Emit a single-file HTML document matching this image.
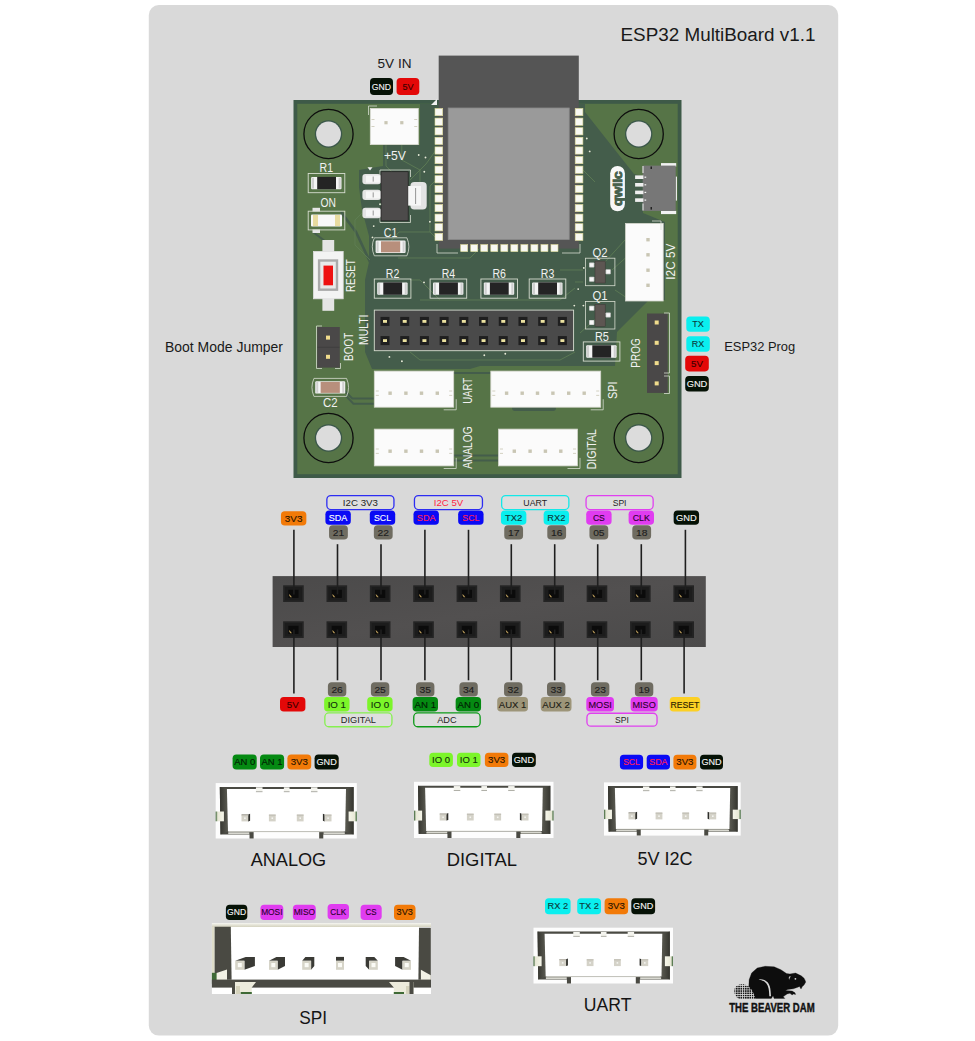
<!DOCTYPE html>
<html><head><meta charset="utf-8"><title>ESP32 MultiBoard v1.1</title>
<style>
html,body{margin:0;padding:0;background:#ffffff;width:975px;height:1041px;overflow:hidden}
svg{display:block;font-family:"Liberation Sans", sans-serif}
</style></head><body>
<svg width="975" height="1041" viewBox="0 0 975 1041">
<rect x="0" y="0" width="975" height="1041" fill="#ffffff"/>
<rect x="148.80" y="5.00" width="689.40" height="1030.60" rx="10" fill="#d9d9d9"/>
<text x="815.50" y="41.00" font-size="18.8" fill="#1a1a1a" text-anchor="end" textLength="195.00" lengthAdjust="spacingAndGlyphs">ESP32 MultiBoard v1.1</text>
<text x="394.50" y="68.40" font-size="13.6" fill="#1a1a1a" text-anchor="middle" textLength="34.00" lengthAdjust="spacingAndGlyphs">5V IN</text>
<text x="165.00" y="352.00" font-size="14.2" fill="#1a1a1a" text-anchor="start" textLength="118.00" lengthAdjust="spacingAndGlyphs">Boot Mode Jumper</text>
<text x="724.20" y="351.30" font-size="13.6" fill="#1a1a1a" text-anchor="start" textLength="71.00" lengthAdjust="spacingAndGlyphs">ESP32 Prog</text>
<rect x="370.00" y="78.00" width="23.00" height="17.00" rx="3.8" fill="#061206"/>
<text x="381.50" y="89.67" font-size="8.8" fill="#f4f4f4" text-anchor="middle" textLength="19.26" lengthAdjust="spacingAndGlyphs" stroke="#f4f4f4" stroke-width="0.12">GND</text>
<rect x="396.60" y="78.00" width="22.70" height="17.00" rx="3.8" fill="#e30808"/>
<text x="407.95" y="89.67" font-size="8.8" fill="#3a0000" text-anchor="middle" textLength="11.09" lengthAdjust="spacingAndGlyphs" stroke="#3a0000" stroke-width="0.12">5V</text>
<rect x="686.30" y="316.40" width="23.50" height="15.40" rx="3.8" fill="#0aefef"/>
<text x="698.05" y="327.34" font-size="9" fill="#0c3a3a" text-anchor="middle" textLength="11.66" lengthAdjust="spacingAndGlyphs" stroke="#0c3a3a" stroke-width="0.12">TX</text>
<rect x="686.30" y="336.30" width="23.50" height="15.40" rx="3.8" fill="#0aefef"/>
<text x="698.05" y="347.24" font-size="9" fill="#0c3a3a" text-anchor="middle" textLength="12.42" lengthAdjust="spacingAndGlyphs" stroke="#0c3a3a" stroke-width="0.12">RX</text>
<rect x="685.20" y="355.80" width="23.60" height="15.60" rx="3.8" fill="#e30808"/>
<text x="697.00" y="366.84" font-size="9" fill="#3a0000" text-anchor="middle" textLength="11.88" lengthAdjust="spacingAndGlyphs" stroke="#3a0000" stroke-width="0.12">5V</text>
<rect x="685.20" y="375.90" width="23.60" height="15.60" rx="3.8" fill="#061206"/>
<text x="697.00" y="386.94" font-size="9" fill="#f4f4f4" text-anchor="middle" textLength="20.64" lengthAdjust="spacingAndGlyphs" stroke="#f4f4f4" stroke-width="0.12">GND</text>
<rect x="293.50" y="100.00" width="388.00" height="378.00" fill="#3e5a48"/>
<rect x="297.30" y="103.80" width="380.40" height="370.40" fill="#567447"/>
<path d="M383,145 L383,166 L359,170 L359,187 L362,210 L369,236 L369,262 L365,280 L365,352 L372,369 L470,369 L480,366 L615,366 L617,332 L648,301 L665,300 L665,222 L643,213 L643,176 L634,174 L585,112 L585,104 L420,104 L420,145 Z" fill="#445d4b"/>
<path d="M341,212 L356,232 L370,262" fill="none" stroke="#445d4b" stroke-width="2.6"/>
<path d="M313,232 L330,245" fill="none" stroke="#445d4b" stroke-width="2.0"/>
<path d="M344.6,390.8 L352.3,398.5 L374,398.5" fill="none" stroke="#445d4b" stroke-width="2.0"/>
<path d="M345.6,395.6 L353.4,403.8 L374,403.8" fill="none" stroke="#445d4b" stroke-width="2.0"/>
<path d="M453.8,455.5 L498.5,455.5" fill="none" stroke="#445d4b" stroke-width="2.0"/>
<path d="M453.8,460.5 L498.5,460.5" fill="none" stroke="#445d4b" stroke-width="2.0"/>
<path d="M453.8,373 L490.8,373" fill="none" stroke="#445d4b" stroke-width="2.0"/>
<rect x="512.00" y="405.00" width="44.00" height="6.00" rx="3" fill="#445d4b"/>
<path d="M386,145 L386,166 L398,178" fill="none" stroke="#5f7f55" stroke-width="0.8"/>
<path d="M401.8,145 L401.8,160 L420,170 L420,182" fill="none" stroke="#5f7f55" stroke-width="0.8"/>
<path d="M362,213 L355,220 L355,245 L370,260" fill="none" stroke="#5f7f55" stroke-width="0.8"/>
<path d="M410,180 L426,164 L436,150" fill="none" stroke="#5f7f55" stroke-width="0.8"/>
<path d="M436,180 L430,186 L430,232 L440,242" fill="none" stroke="#5f7f55" stroke-width="0.8"/>
<path d="M391,241 L399,232 L430,232" fill="none" stroke="#5f7f55" stroke-width="0.8"/>
<path d="M398,258 L470,258 L480,248" fill="none" stroke="#5f7f55" stroke-width="0.8"/>
<path d="M583,170 L595,182" fill="none" stroke="#5f7f55" stroke-width="0.8"/>
<path d="M605,262 L625,240" fill="none" stroke="#5f7f55" stroke-width="0.8"/>
<path d="M612,270 L640,245" fill="none" stroke="#5f7f55" stroke-width="0.8"/>
<path d="M615,290 L630,300" fill="none" stroke="#5f7f55" stroke-width="0.8"/>
<path d="M420,300 L560,300 L575,288" fill="none" stroke="#5f7f55" stroke-width="0.8"/>
<path d="M410,352 L420,360 L560,360 L575,352" fill="none" stroke="#5f7f55" stroke-width="0.8"/>
<path d="M580,333 L600,315" fill="none" stroke="#5f7f55" stroke-width="0.8"/>
<path d="M560,270 L583,270" fill="none" stroke="#5f7f55" stroke-width="0.8"/>
<path d="M575,282 L583,282" fill="none" stroke="#5f7f55" stroke-width="0.8"/>
<path d="M440,300 L420,280 L410,280" fill="none" stroke="#5f7f55" stroke-width="0.8"/>
<circle cx="328.50" cy="134.00" r="24.60" fill="none" stroke="#0d0d0d" stroke-width="1.3"/>
<circle cx="328.50" cy="134.00" r="13.70" fill="#3b574a"/>
<circle cx="328.50" cy="134.00" r="12.40" fill="#dcdcdc"/>
<circle cx="638.70" cy="134.00" r="24.60" fill="none" stroke="#0d0d0d" stroke-width="1.3"/>
<circle cx="638.70" cy="134.00" r="13.70" fill="#3b574a"/>
<circle cx="638.70" cy="134.00" r="12.40" fill="#dcdcdc"/>
<circle cx="328.50" cy="438.00" r="24.60" fill="none" stroke="#0d0d0d" stroke-width="1.3"/>
<circle cx="328.50" cy="438.00" r="13.70" fill="#3b574a"/>
<circle cx="328.50" cy="438.00" r="12.40" fill="#dcdcdc"/>
<circle cx="638.70" cy="438.00" r="24.60" fill="none" stroke="#0d0d0d" stroke-width="1.3"/>
<circle cx="638.70" cy="438.00" r="13.70" fill="#3b574a"/>
<circle cx="638.70" cy="438.00" r="12.40" fill="#dcdcdc"/>
<rect x="438.70" y="55.60" width="140.10" height="193.00" fill="#555555"/>
<rect x="448.20" y="108.00" width="121.00" height="131.50" fill="#9a9a9a"/>
<rect x="448.20" y="108.00" width="121.00" height="131.50" fill="none" stroke="#8a8a8a" stroke-width="0.8"/>
<rect x="435.00" y="108.50" width="7.70" height="7.20" fill="#f8f8f3" stroke="#e0dc98" stroke-width="0.6"/>
<rect x="575.20" y="108.50" width="7.70" height="7.20" fill="#f8f8f3" stroke="#e0dc98" stroke-width="0.6"/>
<rect x="435.00" y="118.10" width="7.70" height="7.20" fill="#f8f8f3" stroke="#e0dc98" stroke-width="0.6"/>
<rect x="575.20" y="118.10" width="7.70" height="7.20" fill="#f8f8f3" stroke="#e0dc98" stroke-width="0.6"/>
<rect x="435.00" y="127.70" width="7.70" height="7.20" fill="#f8f8f3" stroke="#e0dc98" stroke-width="0.6"/>
<rect x="575.20" y="127.70" width="7.70" height="7.20" fill="#f8f8f3" stroke="#e0dc98" stroke-width="0.6"/>
<rect x="435.00" y="137.30" width="7.70" height="7.20" fill="#f8f8f3" stroke="#e0dc98" stroke-width="0.6"/>
<rect x="575.20" y="137.30" width="7.70" height="7.20" fill="#f8f8f3" stroke="#e0dc98" stroke-width="0.6"/>
<rect x="435.00" y="146.90" width="7.70" height="7.20" fill="#f8f8f3" stroke="#e0dc98" stroke-width="0.6"/>
<rect x="575.20" y="146.90" width="7.70" height="7.20" fill="#f8f8f3" stroke="#e0dc98" stroke-width="0.6"/>
<rect x="435.00" y="156.50" width="7.70" height="7.20" fill="#f8f8f3" stroke="#e0dc98" stroke-width="0.6"/>
<rect x="575.20" y="156.50" width="7.70" height="7.20" fill="#f8f8f3" stroke="#e0dc98" stroke-width="0.6"/>
<rect x="435.00" y="166.10" width="7.70" height="7.20" fill="#f8f8f3" stroke="#e0dc98" stroke-width="0.6"/>
<rect x="575.20" y="166.10" width="7.70" height="7.20" fill="#f8f8f3" stroke="#e0dc98" stroke-width="0.6"/>
<rect x="435.00" y="175.70" width="7.70" height="7.20" fill="#f8f8f3" stroke="#e0dc98" stroke-width="0.6"/>
<rect x="575.20" y="175.70" width="7.70" height="7.20" fill="#f8f8f3" stroke="#e0dc98" stroke-width="0.6"/>
<rect x="435.00" y="185.30" width="7.70" height="7.20" fill="#f8f8f3" stroke="#e0dc98" stroke-width="0.6"/>
<rect x="575.20" y="185.30" width="7.70" height="7.20" fill="#f8f8f3" stroke="#e0dc98" stroke-width="0.6"/>
<rect x="435.00" y="194.90" width="7.70" height="7.20" fill="#f8f8f3" stroke="#e0dc98" stroke-width="0.6"/>
<rect x="575.20" y="194.90" width="7.70" height="7.20" fill="#f8f8f3" stroke="#e0dc98" stroke-width="0.6"/>
<rect x="435.00" y="204.50" width="7.70" height="7.20" fill="#f8f8f3" stroke="#e0dc98" stroke-width="0.6"/>
<rect x="575.20" y="204.50" width="7.70" height="7.20" fill="#f8f8f3" stroke="#e0dc98" stroke-width="0.6"/>
<rect x="435.00" y="214.10" width="7.70" height="7.20" fill="#f8f8f3" stroke="#e0dc98" stroke-width="0.6"/>
<rect x="575.20" y="214.10" width="7.70" height="7.20" fill="#f8f8f3" stroke="#e0dc98" stroke-width="0.6"/>
<rect x="435.00" y="223.70" width="7.70" height="7.20" fill="#f8f8f3" stroke="#e0dc98" stroke-width="0.6"/>
<rect x="575.20" y="223.70" width="7.70" height="7.20" fill="#f8f8f3" stroke="#e0dc98" stroke-width="0.6"/>
<rect x="435.00" y="233.30" width="7.70" height="7.20" fill="#f8f8f3" stroke="#e0dc98" stroke-width="0.6"/>
<rect x="575.20" y="233.30" width="7.70" height="7.20" fill="#f8f8f3" stroke="#e0dc98" stroke-width="0.6"/>
<rect x="460.70" y="244.60" width="7.00" height="7.00" fill="#f8f8f3" stroke="#e0dc98" stroke-width="0.6"/>
<rect x="470.73" y="244.60" width="7.00" height="7.00" fill="#f8f8f3" stroke="#e0dc98" stroke-width="0.6"/>
<rect x="480.76" y="244.60" width="7.00" height="7.00" fill="#f8f8f3" stroke="#e0dc98" stroke-width="0.6"/>
<rect x="490.79" y="244.60" width="7.00" height="7.00" fill="#f8f8f3" stroke="#e0dc98" stroke-width="0.6"/>
<rect x="500.82" y="244.60" width="7.00" height="7.00" fill="#f8f8f3" stroke="#e0dc98" stroke-width="0.6"/>
<rect x="510.85" y="244.60" width="7.00" height="7.00" fill="#f8f8f3" stroke="#e0dc98" stroke-width="0.6"/>
<rect x="520.88" y="244.60" width="7.00" height="7.00" fill="#f8f8f3" stroke="#e0dc98" stroke-width="0.6"/>
<rect x="530.91" y="244.60" width="7.00" height="7.00" fill="#f8f8f3" stroke="#e0dc98" stroke-width="0.6"/>
<rect x="540.94" y="244.60" width="7.00" height="7.00" fill="#f8f8f3" stroke="#e0dc98" stroke-width="0.6"/>
<rect x="550.97" y="244.60" width="7.00" height="7.00" fill="#f8f8f3" stroke="#e0dc98" stroke-width="0.6"/>
<path d="M437,244 L437,253 L458,253" fill="none" stroke="#d6dccf" stroke-width="0.8"/>
<path d="M580,244 L580,253 L562,253" fill="none" stroke="#d6dccf" stroke-width="0.8"/>
<path d="M431,105 L437,105 L437,99 Z" fill="#f2f2f2"/>
<rect x="370.30" y="108.50" width="48.00" height="36.10" fill="#fbfbfb" stroke="#dcdcd4" stroke-width="0.8"/>
<rect x="384.40" y="121.10" width="3.20" height="3.20" fill="#c9c6b4"/>
<rect x="400.20" y="121.10" width="3.20" height="3.20" fill="#c9c6b4"/>
<line x1="371.50" y1="119.50" x2="374.50" y2="119.50" stroke="#c9c6b4" stroke-width="0.8"/>
<line x1="414.20" y1="119.50" x2="417.20" y2="119.50" stroke="#c9c6b4" stroke-width="0.8"/>
<line x1="371.50" y1="126.50" x2="374.50" y2="126.50" stroke="#c9c6b4" stroke-width="0.8"/>
<line x1="414.20" y1="126.50" x2="417.20" y2="126.50" stroke="#c9c6b4" stroke-width="0.8"/>
<path d="M368.5,115 L368.5,106 L377,106" fill="none" stroke="#d6dccf" stroke-width="0.8"/>
<text x="395.00" y="160.03" font-size="12.46" fill="#f2f2f2" text-anchor="middle" textLength="22.00" lengthAdjust="spacingAndGlyphs">+5V</text>
<text x="326.30" y="171.97" font-size="11.9" fill="#f2f2f2" text-anchor="middle" textLength="13.50" lengthAdjust="spacingAndGlyphs">R1</text>
<rect x="308.20" y="173.50" width="36.60" height="19.20" fill="none" stroke="#d6dccf" stroke-width="0.9"/>
<rect x="311.10" y="176.90" width="30.40" height="12.40" rx="1" fill="#f4f4f4"/>
<rect x="311.90" y="177.70" width="2.10" height="10.80" fill="#cfcfcf"/>
<rect x="338.60" y="177.70" width="2.10" height="10.80" fill="#cfcfcf"/>
<rect x="317.20" y="176.90" width="18.80" height="12.40" fill="#242424"/>
<text x="328.30" y="207.37" font-size="11.9" fill="#f2f2f2" text-anchor="middle" textLength="15.40" lengthAdjust="spacingAndGlyphs">ON</text>
<rect x="312.50" y="207.80" width="7.50" height="3.70" fill="#e6e6e6"/>
<rect x="312.50" y="229.50" width="7.50" height="3.50" fill="#e6e6e6"/>
<rect x="308.20" y="211.20" width="36.60" height="18.70" fill="none" stroke="#d6dccf" stroke-width="0.9"/>
<rect x="311.00" y="214.40" width="31.00" height="12.20" rx="1" fill="#f8f8f8"/>
<rect x="313.00" y="215.00" width="5.00" height="11.00" fill="#e8dca0"/>
<rect x="335.00" y="215.00" width="5.00" height="11.00" fill="#e8dca0"/>
<path d="M380,178 L380,170 L410.5,170 L410.5,177" fill="none" stroke="#d6dccf" stroke-width="0.8"/>
<path d="M380,214 L380,222.5 L410.5,222.5 L410.5,215" fill="none" stroke="#d6dccf" stroke-width="0.8"/>
<rect x="362.40" y="173.90" width="18.60" height="10.40" rx="3" fill="#e4e4e4"/>
<rect x="366.00" y="175.50" width="15.00" height="7.20" fill="#f6f6f6"/>
<line x1="373.20" y1="176.60" x2="373.20" y2="181.60" stroke="#6a6a6a" stroke-width="0.7"/>
<rect x="362.40" y="189.70" width="18.60" height="10.40" rx="3" fill="#e4e4e4"/>
<rect x="366.00" y="191.30" width="15.00" height="7.20" fill="#f6f6f6"/>
<line x1="373.20" y1="192.40" x2="373.20" y2="197.40" stroke="#6a6a6a" stroke-width="0.7"/>
<rect x="362.40" y="207.80" width="18.60" height="10.40" rx="3" fill="#e4e4e4"/>
<rect x="366.00" y="209.40" width="15.00" height="7.20" fill="#f6f6f6"/>
<line x1="373.20" y1="210.50" x2="373.20" y2="215.50" stroke="#6a6a6a" stroke-width="0.7"/>
<rect x="381.00" y="171.70" width="27.20" height="49.20" fill="#4d4b4b" stroke="#1c1c1c" stroke-width="0.7"/>
<rect x="410.40" y="182.00" width="16.30" height="27.60" rx="4" fill="#e4e4e4"/>
<rect x="408.20" y="186.00" width="12.80" height="19.60" fill="#f6f6f6"/>
<line x1="415.60" y1="188.00" x2="415.60" y2="204.00" stroke="#6a6a6a" stroke-width="0.7"/>
<path d="M367.5,167.2 L372.5,167.2 L370,170.4 Z" fill="#f2f2f2"/>
<text x="390.50" y="236.77" font-size="11.9" fill="#f2f2f2" text-anchor="middle" textLength="13.50" lengthAdjust="spacingAndGlyphs">C1</text>
<path d="M374.3,237.8 L406.90000000000003,237.8 Q410.90000000000003,246.8 406.90000000000003,255.8 L374.3,255.8 Q370.3,246.8 374.3,237.8 Z" fill="none" stroke="#d6dccf" stroke-width="0.8"/>
<rect x="375.60" y="240.60" width="30.00" height="12.40" rx="1.2" fill="#f4f4f4"/>
<rect x="376.60" y="241.40" width="2.00" height="10.80" fill="#cfcfcf"/>
<rect x="402.60" y="241.40" width="2.00" height="10.80" fill="#cfcfcf"/>
<rect x="381.00" y="241.30" width="19.20" height="11.00" fill="#b88f7c"/>
<rect x="322.40" y="240.00" width="11.80" height="12.00" fill="#e4e4e4"/>
<rect x="322.40" y="298.00" width="11.80" height="12.80" fill="#e4e4e4"/>
<rect x="313.40" y="251.40" width="29.80" height="47.40" fill="#f3f3f3" stroke="#dedede" stroke-width="0.8"/>
<rect x="317.90" y="259.30" width="20.30" height="31.60" fill="#aaaaaa"/>
<rect x="320.30" y="261.70" width="15.50" height="26.80" fill="#e9e9e9"/>
<rect x="323.50" y="265.60" width="9.50" height="19.70" fill="#ee1111"/>
<text x="352.00" y="279.06" font-size="11.9" fill="#f2f2f2" text-anchor="middle" textLength="32.70" lengthAdjust="spacingAndGlyphs" transform="rotate(-90 352.00 275.60)">RESET</text>
<text x="392.60" y="278.06" font-size="11.9" fill="#f2f2f2" text-anchor="middle" textLength="13.50" lengthAdjust="spacingAndGlyphs">R2</text>
<rect x="374.30" y="279.00" width="36.60" height="19.20" fill="none" stroke="#d6dccf" stroke-width="0.9"/>
<rect x="377.20" y="282.40" width="30.40" height="12.40" rx="1" fill="#f4f4f4"/>
<rect x="378.00" y="283.20" width="2.10" height="10.80" fill="#cfcfcf"/>
<rect x="404.70" y="283.20" width="2.10" height="10.80" fill="#cfcfcf"/>
<rect x="383.30" y="282.40" width="18.80" height="12.40" fill="#242424"/>
<text x="448.40" y="278.06" font-size="11.9" fill="#f2f2f2" text-anchor="middle" textLength="13.50" lengthAdjust="spacingAndGlyphs">R4</text>
<rect x="430.10" y="279.00" width="36.60" height="19.20" fill="none" stroke="#d6dccf" stroke-width="0.9"/>
<rect x="433.00" y="282.40" width="30.40" height="12.40" rx="1" fill="#f4f4f4"/>
<rect x="433.80" y="283.20" width="2.10" height="10.80" fill="#cfcfcf"/>
<rect x="460.50" y="283.20" width="2.10" height="10.80" fill="#cfcfcf"/>
<rect x="439.10" y="282.40" width="18.80" height="12.40" fill="#242424"/>
<text x="499.20" y="278.06" font-size="11.9" fill="#f2f2f2" text-anchor="middle" textLength="13.50" lengthAdjust="spacingAndGlyphs">R6</text>
<rect x="480.90" y="279.00" width="36.60" height="19.20" fill="none" stroke="#d6dccf" stroke-width="0.9"/>
<rect x="483.80" y="282.40" width="30.40" height="12.40" rx="1" fill="#f4f4f4"/>
<rect x="484.60" y="283.20" width="2.10" height="10.80" fill="#cfcfcf"/>
<rect x="511.30" y="283.20" width="2.10" height="10.80" fill="#cfcfcf"/>
<rect x="489.90" y="282.40" width="18.80" height="12.40" fill="#242424"/>
<text x="547.50" y="278.06" font-size="11.9" fill="#f2f2f2" text-anchor="middle" textLength="13.50" lengthAdjust="spacingAndGlyphs">R3</text>
<rect x="529.20" y="279.00" width="36.60" height="19.20" fill="none" stroke="#d6dccf" stroke-width="0.9"/>
<rect x="532.10" y="282.40" width="30.40" height="12.40" rx="1" fill="#f4f4f4"/>
<rect x="532.90" y="283.20" width="2.10" height="10.80" fill="#cfcfcf"/>
<rect x="559.60" y="283.20" width="2.10" height="10.80" fill="#cfcfcf"/>
<rect x="538.20" y="282.40" width="18.80" height="12.40" fill="#242424"/>
<rect x="374.30" y="310.10" width="199.30" height="40.60" fill="#4a4a4a" stroke="#d6dccf" stroke-width="0.9"/>
<rect x="380.50" y="316.90" width="9.00" height="9.00" fill="#1f1f1f"/>
<rect x="383.00" y="320.00" width="4.00" height="2.80" fill="#ece2a0"/>
<rect x="380.50" y="336.10" width="9.00" height="9.00" fill="#1f1f1f"/>
<rect x="383.00" y="339.20" width="4.00" height="2.80" fill="#ece2a0"/>
<rect x="400.21" y="316.90" width="9.00" height="9.00" fill="#1f1f1f"/>
<rect x="402.71" y="320.00" width="4.00" height="2.80" fill="#ece2a0"/>
<rect x="400.21" y="336.10" width="9.00" height="9.00" fill="#1f1f1f"/>
<rect x="402.71" y="339.20" width="4.00" height="2.80" fill="#ece2a0"/>
<rect x="419.92" y="316.90" width="9.00" height="9.00" fill="#1f1f1f"/>
<rect x="422.42" y="320.00" width="4.00" height="2.80" fill="#ece2a0"/>
<rect x="419.92" y="336.10" width="9.00" height="9.00" fill="#1f1f1f"/>
<rect x="422.42" y="339.20" width="4.00" height="2.80" fill="#ece2a0"/>
<rect x="439.63" y="316.90" width="9.00" height="9.00" fill="#1f1f1f"/>
<rect x="442.13" y="320.00" width="4.00" height="2.80" fill="#ece2a0"/>
<rect x="439.63" y="336.10" width="9.00" height="9.00" fill="#1f1f1f"/>
<rect x="442.13" y="339.20" width="4.00" height="2.80" fill="#ece2a0"/>
<rect x="459.34" y="316.90" width="9.00" height="9.00" fill="#1f1f1f"/>
<rect x="461.84" y="320.00" width="4.00" height="2.80" fill="#ece2a0"/>
<rect x="459.34" y="336.10" width="9.00" height="9.00" fill="#1f1f1f"/>
<rect x="461.84" y="339.20" width="4.00" height="2.80" fill="#ece2a0"/>
<rect x="479.05" y="316.90" width="9.00" height="9.00" fill="#1f1f1f"/>
<rect x="481.55" y="320.00" width="4.00" height="2.80" fill="#ece2a0"/>
<rect x="479.05" y="336.10" width="9.00" height="9.00" fill="#1f1f1f"/>
<rect x="481.55" y="339.20" width="4.00" height="2.80" fill="#ece2a0"/>
<rect x="498.76" y="316.90" width="9.00" height="9.00" fill="#1f1f1f"/>
<rect x="501.26" y="320.00" width="4.00" height="2.80" fill="#ece2a0"/>
<rect x="498.76" y="336.10" width="9.00" height="9.00" fill="#1f1f1f"/>
<rect x="501.26" y="339.20" width="4.00" height="2.80" fill="#ece2a0"/>
<rect x="518.47" y="316.90" width="9.00" height="9.00" fill="#1f1f1f"/>
<rect x="520.97" y="320.00" width="4.00" height="2.80" fill="#ece2a0"/>
<rect x="518.47" y="336.10" width="9.00" height="9.00" fill="#1f1f1f"/>
<rect x="520.97" y="339.20" width="4.00" height="2.80" fill="#ece2a0"/>
<rect x="538.18" y="316.90" width="9.00" height="9.00" fill="#1f1f1f"/>
<rect x="540.68" y="320.00" width="4.00" height="2.80" fill="#ece2a0"/>
<rect x="538.18" y="336.10" width="9.00" height="9.00" fill="#1f1f1f"/>
<rect x="540.68" y="339.20" width="4.00" height="2.80" fill="#ece2a0"/>
<rect x="557.89" y="316.90" width="9.00" height="9.00" fill="#1f1f1f"/>
<rect x="560.39" y="320.00" width="4.00" height="2.80" fill="#ece2a0"/>
<rect x="557.89" y="336.10" width="9.00" height="9.00" fill="#1f1f1f"/>
<rect x="560.39" y="339.20" width="4.00" height="2.80" fill="#ece2a0"/>
<text x="364.30" y="333.26" font-size="11.9" fill="#f2f2f2" text-anchor="middle" textLength="30.40" lengthAdjust="spacingAndGlyphs" transform="rotate(-90 364.30 329.80)">MULTI</text>
<rect x="317.20" y="327.00" width="22.60" height="40.60" fill="#4a4848"/>
<path d="M322,326 L316.5,326 L316.5,368.5 L322,368.5" fill="none" stroke="#d6dccf" stroke-width="0.8"/>
<path d="M335,368.5 L340.5,368.5 L340.5,363" fill="none" stroke="#d6dccf" stroke-width="0.8"/>
<line x1="317.50" y1="347.30" x2="339.50" y2="347.30" stroke="#3c3c3c" stroke-width="0.8"/>
<rect x="326.00" y="335.60" width="4.00" height="4.00" fill="#f0dc8c"/>
<rect x="326.00" y="354.80" width="4.00" height="4.00" fill="#f0dc8c"/>
<text x="349.80" y="350.26" font-size="11.9" fill="#f2f2f2" text-anchor="middle" textLength="28.20" lengthAdjust="spacingAndGlyphs" transform="rotate(-90 349.80 346.80)">BOOT</text>
<path d="M313.95,378.4 L346.55,378.4 Q350.55,387.4 346.55,396.4 L313.95,396.4 Q309.95,387.4 313.95,378.4 Z" fill="none" stroke="#d6dccf" stroke-width="0.8"/>
<rect x="315.25" y="381.20" width="30.00" height="12.40" rx="1.2" fill="#f4f4f4"/>
<rect x="316.25" y="382.00" width="2.00" height="10.80" fill="#cfcfcf"/>
<rect x="342.25" y="382.00" width="2.00" height="10.80" fill="#cfcfcf"/>
<rect x="320.65" y="381.90" width="19.20" height="11.00" fill="#b88f7c"/>
<text x="330.20" y="407.36" font-size="11.9" fill="#f2f2f2" text-anchor="middle" textLength="14.60" lengthAdjust="spacingAndGlyphs">C2</text>
<rect x="374.30" y="371.10" width="79.40" height="36.10" fill="#fbfbfb" stroke="#d4d6cc" stroke-width="0.8"/>
<rect x="388.40" y="391.50" width="3.40" height="3.40" fill="#c9c6b4"/>
<rect x="404.20" y="391.50" width="3.40" height="3.40" fill="#c9c6b4"/>
<rect x="419.80" y="391.50" width="3.40" height="3.40" fill="#c9c6b4"/>
<rect x="435.60" y="391.50" width="3.40" height="3.40" fill="#c9c6b4"/>
<line x1="375.80" y1="391.00" x2="378.80" y2="391.00" stroke="#c9c6b4" stroke-width="0.8"/>
<line x1="449.20" y1="391.00" x2="452.20" y2="391.00" stroke="#c9c6b4" stroke-width="0.8"/>
<line x1="375.80" y1="395.40" x2="378.80" y2="395.40" stroke="#c9c6b4" stroke-width="0.8"/>
<line x1="449.20" y1="395.40" x2="452.20" y2="395.40" stroke="#c9c6b4" stroke-width="0.8"/>
<path d="M443.7,409.8 L456.2,409.8 L456.2,399.2" fill="none" stroke="#d6dccf" stroke-width="0.8"/>
<rect x="374.30" y="429.10" width="79.40" height="36.80" fill="#fbfbfb" stroke="#d4d6cc" stroke-width="0.8"/>
<rect x="388.40" y="449.50" width="3.40" height="3.40" fill="#c9c6b4"/>
<rect x="404.20" y="449.50" width="3.40" height="3.40" fill="#c9c6b4"/>
<rect x="419.80" y="449.50" width="3.40" height="3.40" fill="#c9c6b4"/>
<rect x="435.60" y="449.50" width="3.40" height="3.40" fill="#c9c6b4"/>
<line x1="375.80" y1="449.00" x2="378.80" y2="449.00" stroke="#c9c6b4" stroke-width="0.8"/>
<line x1="449.20" y1="449.00" x2="452.20" y2="449.00" stroke="#c9c6b4" stroke-width="0.8"/>
<line x1="375.80" y1="453.40" x2="378.80" y2="453.40" stroke="#c9c6b4" stroke-width="0.8"/>
<line x1="449.20" y1="453.40" x2="452.20" y2="453.40" stroke="#c9c6b4" stroke-width="0.8"/>
<path d="M443.7,468.5 L456.2,468.5 L456.2,457.9" fill="none" stroke="#d6dccf" stroke-width="0.8"/>
<rect x="490.80" y="371.10" width="109.90" height="36.10" fill="#fbfbfb" stroke="#d4d6cc" stroke-width="0.8"/>
<rect x="504.90" y="391.50" width="3.40" height="3.40" fill="#c9c6b4"/>
<rect x="520.50" y="391.50" width="3.40" height="3.40" fill="#c9c6b4"/>
<rect x="535.80" y="391.50" width="3.40" height="3.40" fill="#c9c6b4"/>
<rect x="551.20" y="391.50" width="3.40" height="3.40" fill="#c9c6b4"/>
<rect x="567.00" y="391.50" width="3.40" height="3.40" fill="#c9c6b4"/>
<rect x="582.50" y="391.50" width="3.40" height="3.40" fill="#c9c6b4"/>
<line x1="492.30" y1="391.00" x2="495.30" y2="391.00" stroke="#c9c6b4" stroke-width="0.8"/>
<line x1="596.20" y1="391.00" x2="599.20" y2="391.00" stroke="#c9c6b4" stroke-width="0.8"/>
<line x1="492.30" y1="395.40" x2="495.30" y2="395.40" stroke="#c9c6b4" stroke-width="0.8"/>
<line x1="596.20" y1="395.40" x2="599.20" y2="395.40" stroke="#c9c6b4" stroke-width="0.8"/>
<path d="M590.7,409.8 L603.2,409.8 L603.2,399.2" fill="none" stroke="#d6dccf" stroke-width="0.8"/>
<rect x="498.50" y="429.10" width="79.00" height="36.80" fill="#fbfbfb" stroke="#d4d6cc" stroke-width="0.8"/>
<rect x="512.60" y="449.50" width="3.40" height="3.40" fill="#c9c6b4"/>
<rect x="528.40" y="449.50" width="3.40" height="3.40" fill="#c9c6b4"/>
<rect x="543.70" y="449.50" width="3.40" height="3.40" fill="#c9c6b4"/>
<rect x="559.10" y="449.50" width="3.40" height="3.40" fill="#c9c6b4"/>
<line x1="500.00" y1="449.00" x2="503.00" y2="449.00" stroke="#c9c6b4" stroke-width="0.8"/>
<line x1="573.00" y1="449.00" x2="576.00" y2="449.00" stroke="#c9c6b4" stroke-width="0.8"/>
<line x1="500.00" y1="453.40" x2="503.00" y2="453.40" stroke="#c9c6b4" stroke-width="0.8"/>
<line x1="573.00" y1="453.40" x2="576.00" y2="453.40" stroke="#c9c6b4" stroke-width="0.8"/>
<path d="M567.5,468.5 L580.0,468.5 L580.0,457.9" fill="none" stroke="#d6dccf" stroke-width="0.8"/>
<text x="468.10" y="394.36" font-size="11.9" fill="#f2f2f2" text-anchor="middle" textLength="25.90" lengthAdjust="spacingAndGlyphs" transform="rotate(-90 468.10 390.90)">UART</text>
<text x="468.10" y="451.06" font-size="11.9" fill="#f2f2f2" text-anchor="middle" textLength="42.40" lengthAdjust="spacingAndGlyphs" transform="rotate(-90 468.10 447.60)">ANALOG</text>
<text x="613.30" y="393.76" font-size="11.9" fill="#f2f2f2" text-anchor="middle" textLength="17.40" lengthAdjust="spacingAndGlyphs" transform="rotate(-90 613.30 390.30)">SPI</text>
<text x="592.30" y="452.66" font-size="11.9" fill="#f2f2f2" text-anchor="middle" textLength="40.20" lengthAdjust="spacingAndGlyphs" transform="rotate(-90 592.30 449.20)">DIGITAL</text>
<rect x="625.50" y="223.40" width="37.70" height="77.60" fill="#fbfbfb" stroke="#d4d6cc" stroke-width="0.8"/>
<rect x="646.30" y="238.00" width="3.40" height="3.40" fill="#c9c6b4"/>
<rect x="646.30" y="253.10" width="3.40" height="3.40" fill="#c9c6b4"/>
<rect x="646.30" y="268.50" width="3.40" height="3.40" fill="#c9c6b4"/>
<rect x="646.30" y="283.60" width="3.40" height="3.40" fill="#c9c6b4"/>
<path d="M652,221 L661,221 L661,230" fill="none" stroke="#d6dccf" stroke-width="0.8"/>
<text x="671.20" y="265.06" font-size="11.9" fill="#f2f2f2" text-anchor="middle" textLength="36.10" lengthAdjust="spacingAndGlyphs" transform="rotate(-90 671.20 261.60)">I2C 5V</text>
<text x="600.00" y="256.56" font-size="11.9" fill="#f2f2f2" text-anchor="middle" textLength="15.10" lengthAdjust="spacingAndGlyphs">Q2</text>
<rect x="585.60" y="258.20" width="29.30" height="27.50" fill="none" stroke="#d6dccf" stroke-width="0.8"/>
<rect x="595.00" y="261.10" width="10.20" height="21.90" fill="#5d5652" stroke="#3c3836" stroke-width="0.5"/>
<rect x="589.10" y="262.50" width="5.20" height="5.00" rx="0.8" fill="#cfcfcf"/>
<rect x="589.90" y="263.30" width="3.60" height="3.40" fill="#f8f8f8"/>
<rect x="589.10" y="276.70" width="5.20" height="5.00" rx="0.8" fill="#cfcfcf"/>
<rect x="589.90" y="277.50" width="3.60" height="3.40" fill="#f8f8f8"/>
<rect x="605.60" y="269.20" width="5.20" height="5.00" rx="0.8" fill="#cfcfcf"/>
<rect x="606.40" y="270.00" width="3.60" height="3.40" fill="#f8f8f8"/>
<text x="600.00" y="299.96" font-size="11.9" fill="#f2f2f2" text-anchor="middle" textLength="15.10" lengthAdjust="spacingAndGlyphs">Q1</text>
<rect x="585.60" y="301.50" width="29.30" height="27.50" fill="none" stroke="#d6dccf" stroke-width="0.8"/>
<rect x="595.00" y="304.40" width="10.20" height="21.90" fill="#5d5652" stroke="#3c3836" stroke-width="0.5"/>
<rect x="589.10" y="305.80" width="5.20" height="5.00" rx="0.8" fill="#cfcfcf"/>
<rect x="589.90" y="306.60" width="3.60" height="3.40" fill="#f8f8f8"/>
<rect x="589.10" y="320.00" width="5.20" height="5.00" rx="0.8" fill="#cfcfcf"/>
<rect x="589.90" y="320.80" width="3.60" height="3.40" fill="#f8f8f8"/>
<rect x="605.60" y="312.50" width="5.20" height="5.00" rx="0.8" fill="#cfcfcf"/>
<rect x="606.40" y="313.30" width="3.60" height="3.40" fill="#f8f8f8"/>
<text x="601.90" y="340.56" font-size="11.9" fill="#f2f2f2" text-anchor="middle" textLength="14.00" lengthAdjust="spacingAndGlyphs">R5</text>
<rect x="583.30" y="341.90" width="36.60" height="19.20" fill="none" stroke="#d6dccf" stroke-width="0.9"/>
<rect x="586.20" y="345.30" width="30.40" height="12.40" rx="1" fill="#f4f4f4"/>
<rect x="587.00" y="346.10" width="2.10" height="10.80" fill="#cfcfcf"/>
<rect x="613.70" y="346.10" width="2.10" height="10.80" fill="#cfcfcf"/>
<rect x="592.30" y="345.30" width="18.80" height="12.40" fill="#242424"/>
<rect x="647.00" y="313.50" width="20.70" height="79.40" fill="#4a4848"/>
<path d="M664,313 L669.5,313 L669.5,373 L664,373" fill="none" stroke="#d6dccf" stroke-width="0.8"/>
<path d="M664,376 L669.5,376 L669.5,393.5 L664,393.5" fill="none" stroke="#d6dccf" stroke-width="0.8"/>
<rect x="654.70" y="320.50" width="4.00" height="4.00" fill="#f0dc8c"/>
<rect x="654.70" y="340.80" width="4.00" height="4.00" fill="#f0dc8c"/>
<rect x="654.70" y="361.10" width="4.00" height="4.00" fill="#f0dc8c"/>
<rect x="654.70" y="381.40" width="4.00" height="4.00" fill="#f0dc8c"/>
<text x="636.80" y="356.46" font-size="11.9" fill="#f2f2f2" text-anchor="middle" textLength="29.30" lengthAdjust="spacingAndGlyphs" transform="rotate(-90 636.80 353.00)">PROG</text>
<rect x="610.20" y="165.90" width="14.70" height="45.40" rx="7.3" fill="#f8f8f8"/>
<text x="617.55" y="192.60" font-size="12.5" fill="#46604c" text-anchor="middle" font-weight="bold" textLength="35.00" lengthAdjust="spacingAndGlyphs" stroke="#46604c" stroke-width="0.9" transform="rotate(-90 617.55 188.6)">qwiic</text>
<rect x="661.00" y="163.10" width="15.20" height="3.50" fill="#f2f2f2"/>
<rect x="661.00" y="210.80" width="15.20" height="3.30" fill="#f2f2f2"/>
<rect x="675.60" y="176.60" width="1.40" height="24.00" fill="#e8e8e8"/>
<rect x="642.70" y="165.60" width="33.00" height="45.30" fill="#777777"/>
<line x1="643.00" y1="166.00" x2="643.00" y2="173.00" stroke="#f0f0f0" stroke-width="1"/>
<line x1="643.00" y1="203.50" x2="643.00" y2="210.50" stroke="#f0f0f0" stroke-width="1"/>
<rect x="650.50" y="166.50" width="1.50" height="2.50" fill="#222"/>
<rect x="650.50" y="207.00" width="1.50" height="2.60" fill="#222"/>
<rect x="635.10" y="175.40" width="8.30" height="3.60" fill="#efefef"/>
<rect x="644.50" y="176.60" width="1.70" height="1.20" fill="#f4f4f4"/>
<rect x="635.10" y="183.00" width="8.30" height="3.60" fill="#efefef"/>
<rect x="644.50" y="184.20" width="1.70" height="1.20" fill="#f4f4f4"/>
<rect x="635.10" y="190.60" width="8.30" height="3.60" fill="#efefef"/>
<rect x="644.50" y="191.80" width="1.70" height="1.20" fill="#f4f4f4"/>
<rect x="635.10" y="198.30" width="8.30" height="3.60" fill="#efefef"/>
<rect x="644.50" y="199.50" width="1.70" height="1.20" fill="#f4f4f4"/>
<circle cx="418.70" cy="155.00" r="1.60" fill="#3e5646"/>
<circle cx="418.70" cy="155.00" r="0.95" fill="#e8ecd8"/>
<circle cx="425.50" cy="157.50" r="1.60" fill="#3e5646"/>
<circle cx="425.50" cy="157.50" r="0.95" fill="#e8ecd8"/>
<circle cx="424.30" cy="171.80" r="1.60" fill="#3e5646"/>
<circle cx="424.30" cy="171.80" r="0.95" fill="#e8ecd8"/>
<circle cx="429.90" cy="221.80" r="1.60" fill="#3e5646"/>
<circle cx="429.90" cy="221.80" r="0.95" fill="#e8ecd8"/>
<circle cx="373.70" cy="226.10" r="1.60" fill="#3e5646"/>
<circle cx="373.70" cy="226.10" r="0.95" fill="#e8ecd8"/>
<circle cx="372.50" cy="237.40" r="1.60" fill="#3e5646"/>
<circle cx="372.50" cy="237.40" r="0.95" fill="#e8ecd8"/>
<circle cx="380.00" cy="204.30" r="1.60" fill="#3e5646"/>
<circle cx="380.00" cy="204.30" r="0.95" fill="#e8ecd8"/>
<circle cx="583.80" cy="267.90" r="1.60" fill="#3e5646"/>
<circle cx="583.80" cy="267.90" r="0.95" fill="#e8ecd8"/>
<circle cx="578.20" cy="289.10" r="1.60" fill="#3e5646"/>
<circle cx="578.20" cy="289.10" r="0.95" fill="#e8ecd8"/>
<circle cx="574.30" cy="305.60" r="1.60" fill="#3e5646"/>
<circle cx="574.30" cy="305.60" r="0.95" fill="#e8ecd8"/>
<circle cx="583.40" cy="305.60" r="1.60" fill="#3e5646"/>
<circle cx="583.40" cy="305.60" r="0.95" fill="#e8ecd8"/>
<circle cx="505.30" cy="353.70" r="1.60" fill="#3e5646"/>
<circle cx="505.30" cy="353.70" r="0.95" fill="#e8ecd8"/>
<circle cx="424.00" cy="282.40" r="1.60" fill="#3e5646"/>
<circle cx="424.00" cy="282.40" r="0.95" fill="#e8ecd8"/>
<circle cx="389.40" cy="356.90" r="1.60" fill="#3e5646"/>
<circle cx="389.40" cy="356.90" r="0.95" fill="#e8ecd8"/>
<circle cx="401.90" cy="361.30" r="1.60" fill="#3e5646"/>
<circle cx="401.90" cy="361.30" r="0.95" fill="#e8ecd8"/>
<circle cx="484.30" cy="355.30" r="1.60" fill="#3e5646"/>
<circle cx="484.30" cy="355.30" r="0.95" fill="#e8ecd8"/>
<circle cx="586.80" cy="138.50" r="1.60" fill="#3e5646"/>
<circle cx="586.80" cy="138.50" r="0.95" fill="#e8ecd8"/>
<circle cx="589.70" cy="151.40" r="1.60" fill="#3e5646"/>
<circle cx="589.70" cy="151.40" r="0.95" fill="#e8ecd8"/>
<defs><linearGradient id="hdr" x1="0" y1="0" x2="1" y2="1"><stop offset="0" stop-color="#4b4a4a"/><stop offset="0.5" stop-color="#525050"/><stop offset="1" stop-color="#4b4a4a"/></linearGradient></defs>
<rect x="272.60" y="576.10" width="433.20" height="70.90" fill="url(#hdr)"/>
<rect x="283.15" y="585.30" width="20.60" height="16.70" fill="#242424"/>
<rect x="284.95" y="587.10" width="17.00" height="13.10" fill="#1c1c1c"/>
<rect x="288.35" y="589.80" width="10.20" height="8.10" fill="#0b0b0b"/>
<path d="M288.95,594.0999999999999 Q290.35,594.8 291.95,597.3 L290.35,597.3 Q288.95,596.0999999999999 288.95,594.0999999999999 Z" fill="#b89a5a"/>
<rect x="283.15" y="621.30" width="20.60" height="16.70" fill="#242424"/>
<rect x="284.95" y="623.10" width="17.00" height="13.10" fill="#1c1c1c"/>
<rect x="288.35" y="625.80" width="10.20" height="8.10" fill="#0b0b0b"/>
<path d="M288.95,630.0999999999999 Q290.35,630.8 291.95,633.3 L290.35,633.3 Q288.95,632.0999999999999 288.95,630.0999999999999 Z" fill="#b89a5a"/>
<rect x="326.51" y="585.30" width="20.60" height="16.70" fill="#242424"/>
<rect x="328.31" y="587.10" width="17.00" height="13.10" fill="#1c1c1c"/>
<rect x="331.71" y="589.80" width="10.20" height="8.10" fill="#0b0b0b"/>
<path d="M332.31,594.0999999999999 Q333.71000000000004,594.8 335.31,597.3 L333.71000000000004,597.3 Q332.31,596.0999999999999 332.31,594.0999999999999 Z" fill="#b89a5a"/>
<rect x="326.51" y="621.30" width="20.60" height="16.70" fill="#242424"/>
<rect x="328.31" y="623.10" width="17.00" height="13.10" fill="#1c1c1c"/>
<rect x="331.71" y="625.80" width="10.20" height="8.10" fill="#0b0b0b"/>
<path d="M332.31,630.0999999999999 Q333.71000000000004,630.8 335.31,633.3 L333.71000000000004,633.3 Q332.31,632.0999999999999 332.31,630.0999999999999 Z" fill="#b89a5a"/>
<rect x="369.87" y="585.30" width="20.60" height="16.70" fill="#242424"/>
<rect x="371.67" y="587.10" width="17.00" height="13.10" fill="#1c1c1c"/>
<rect x="375.07" y="589.80" width="10.20" height="8.10" fill="#0b0b0b"/>
<path d="M375.66999999999996,594.0999999999999 Q377.07,594.8 378.66999999999996,597.3 L377.07,597.3 Q375.66999999999996,596.0999999999999 375.66999999999996,594.0999999999999 Z" fill="#b89a5a"/>
<rect x="369.87" y="621.30" width="20.60" height="16.70" fill="#242424"/>
<rect x="371.67" y="623.10" width="17.00" height="13.10" fill="#1c1c1c"/>
<rect x="375.07" y="625.80" width="10.20" height="8.10" fill="#0b0b0b"/>
<path d="M375.66999999999996,630.0999999999999 Q377.07,630.8 378.66999999999996,633.3 L377.07,633.3 Q375.66999999999996,632.0999999999999 375.66999999999996,630.0999999999999 Z" fill="#b89a5a"/>
<rect x="413.23" y="585.30" width="20.60" height="16.70" fill="#242424"/>
<rect x="415.03" y="587.10" width="17.00" height="13.10" fill="#1c1c1c"/>
<rect x="418.43" y="589.80" width="10.20" height="8.10" fill="#0b0b0b"/>
<path d="M419.03,594.0999999999999 Q420.43,594.8 422.03,597.3 L420.43,597.3 Q419.03,596.0999999999999 419.03,594.0999999999999 Z" fill="#b89a5a"/>
<rect x="413.23" y="621.30" width="20.60" height="16.70" fill="#242424"/>
<rect x="415.03" y="623.10" width="17.00" height="13.10" fill="#1c1c1c"/>
<rect x="418.43" y="625.80" width="10.20" height="8.10" fill="#0b0b0b"/>
<path d="M419.03,630.0999999999999 Q420.43,630.8 422.03,633.3 L420.43,633.3 Q419.03,632.0999999999999 419.03,630.0999999999999 Z" fill="#b89a5a"/>
<rect x="456.59" y="585.30" width="20.60" height="16.70" fill="#242424"/>
<rect x="458.39" y="587.10" width="17.00" height="13.10" fill="#1c1c1c"/>
<rect x="461.79" y="589.80" width="10.20" height="8.10" fill="#0b0b0b"/>
<path d="M462.39,594.0999999999999 Q463.79,594.8 465.39,597.3 L463.79,597.3 Q462.39,596.0999999999999 462.39,594.0999999999999 Z" fill="#b89a5a"/>
<rect x="456.59" y="621.30" width="20.60" height="16.70" fill="#242424"/>
<rect x="458.39" y="623.10" width="17.00" height="13.10" fill="#1c1c1c"/>
<rect x="461.79" y="625.80" width="10.20" height="8.10" fill="#0b0b0b"/>
<path d="M462.39,630.0999999999999 Q463.79,630.8 465.39,633.3 L463.79,633.3 Q462.39,632.0999999999999 462.39,630.0999999999999 Z" fill="#b89a5a"/>
<rect x="499.95" y="585.30" width="20.60" height="16.70" fill="#242424"/>
<rect x="501.75" y="587.10" width="17.00" height="13.10" fill="#1c1c1c"/>
<rect x="505.15" y="589.80" width="10.20" height="8.10" fill="#0b0b0b"/>
<path d="M505.75,594.0999999999999 Q507.15000000000003,594.8 508.75,597.3 L507.15000000000003,597.3 Q505.75,596.0999999999999 505.75,594.0999999999999 Z" fill="#b89a5a"/>
<rect x="499.95" y="621.30" width="20.60" height="16.70" fill="#242424"/>
<rect x="501.75" y="623.10" width="17.00" height="13.10" fill="#1c1c1c"/>
<rect x="505.15" y="625.80" width="10.20" height="8.10" fill="#0b0b0b"/>
<path d="M505.75,630.0999999999999 Q507.15000000000003,630.8 508.75,633.3 L507.15000000000003,633.3 Q505.75,632.0999999999999 505.75,630.0999999999999 Z" fill="#b89a5a"/>
<rect x="543.31" y="585.30" width="20.60" height="16.70" fill="#242424"/>
<rect x="545.11" y="587.10" width="17.00" height="13.10" fill="#1c1c1c"/>
<rect x="548.51" y="589.80" width="10.20" height="8.10" fill="#0b0b0b"/>
<path d="M549.11,594.0999999999999 Q550.51,594.8 552.11,597.3 L550.51,597.3 Q549.11,596.0999999999999 549.11,594.0999999999999 Z" fill="#b89a5a"/>
<rect x="543.31" y="621.30" width="20.60" height="16.70" fill="#242424"/>
<rect x="545.11" y="623.10" width="17.00" height="13.10" fill="#1c1c1c"/>
<rect x="548.51" y="625.80" width="10.20" height="8.10" fill="#0b0b0b"/>
<path d="M549.11,630.0999999999999 Q550.51,630.8 552.11,633.3 L550.51,633.3 Q549.11,632.0999999999999 549.11,630.0999999999999 Z" fill="#b89a5a"/>
<rect x="586.67" y="585.30" width="20.60" height="16.70" fill="#242424"/>
<rect x="588.47" y="587.10" width="17.00" height="13.10" fill="#1c1c1c"/>
<rect x="591.87" y="589.80" width="10.20" height="8.10" fill="#0b0b0b"/>
<path d="M592.4699999999999,594.0999999999999 Q593.8699999999999,594.8 595.4699999999999,597.3 L593.8699999999999,597.3 Q592.4699999999999,596.0999999999999 592.4699999999999,594.0999999999999 Z" fill="#b89a5a"/>
<rect x="586.67" y="621.30" width="20.60" height="16.70" fill="#242424"/>
<rect x="588.47" y="623.10" width="17.00" height="13.10" fill="#1c1c1c"/>
<rect x="591.87" y="625.80" width="10.20" height="8.10" fill="#0b0b0b"/>
<path d="M592.4699999999999,630.0999999999999 Q593.8699999999999,630.8 595.4699999999999,633.3 L593.8699999999999,633.3 Q592.4699999999999,632.0999999999999 592.4699999999999,630.0999999999999 Z" fill="#b89a5a"/>
<rect x="630.03" y="585.30" width="20.60" height="16.70" fill="#242424"/>
<rect x="631.83" y="587.10" width="17.00" height="13.10" fill="#1c1c1c"/>
<rect x="635.23" y="589.80" width="10.20" height="8.10" fill="#0b0b0b"/>
<path d="M635.83,594.0999999999999 Q637.23,594.8 638.83,597.3 L637.23,597.3 Q635.83,596.0999999999999 635.83,594.0999999999999 Z" fill="#b89a5a"/>
<rect x="630.03" y="621.30" width="20.60" height="16.70" fill="#242424"/>
<rect x="631.83" y="623.10" width="17.00" height="13.10" fill="#1c1c1c"/>
<rect x="635.23" y="625.80" width="10.20" height="8.10" fill="#0b0b0b"/>
<path d="M635.83,630.0999999999999 Q637.23,630.8 638.83,633.3 L637.23,633.3 Q635.83,632.0999999999999 635.83,630.0999999999999 Z" fill="#b89a5a"/>
<rect x="673.39" y="585.30" width="20.60" height="16.70" fill="#242424"/>
<rect x="675.19" y="587.10" width="17.00" height="13.10" fill="#1c1c1c"/>
<rect x="678.59" y="589.80" width="10.20" height="8.10" fill="#0b0b0b"/>
<path d="M679.1899999999999,594.0999999999999 Q680.5899999999999,594.8 682.1899999999999,597.3 L680.5899999999999,597.3 Q679.1899999999999,596.0999999999999 679.1899999999999,594.0999999999999 Z" fill="#b89a5a"/>
<rect x="673.39" y="621.30" width="20.60" height="16.70" fill="#242424"/>
<rect x="675.19" y="623.10" width="17.00" height="13.10" fill="#1c1c1c"/>
<rect x="678.59" y="625.80" width="10.20" height="8.10" fill="#0b0b0b"/>
<path d="M679.1899999999999,630.0999999999999 Q680.5899999999999,630.8 682.1899999999999,633.3 L680.5899999999999,633.3 Q679.1899999999999,632.0999999999999 679.1899999999999,630.0999999999999 Z" fill="#b89a5a"/>
<rect x="280.95" y="511.30" width="25.40" height="14.30" rx="3.8" fill="#f27a08"/>
<text x="293.65" y="521.69" font-size="9.0" fill="#2a1400" text-anchor="middle" textLength="17.61" lengthAdjust="spacingAndGlyphs" stroke="#2a1400" stroke-width="0.12">3V3</text>
<line x1="293.90" y1="529.80" x2="293.90" y2="594.40" stroke="#1f1f1f" stroke-width="1.6"/>
<rect x="325.40" y="510.40" width="25.40" height="14.30" rx="3.8" fill="#0a0af5"/>
<text x="338.10" y="520.79" font-size="9.0" fill="#ffffff" text-anchor="middle" textLength="18.64" lengthAdjust="spacingAndGlyphs" stroke="#ffffff" stroke-width="0.12">SDA</text>
<rect x="329.05" y="525.20" width="18.80" height="14.40" rx="3.8" fill="#6f6c61"/>
<text x="338.45" y="535.64" font-size="9.0" fill="#1e1e1e" text-anchor="middle" textLength="11.45" lengthAdjust="spacingAndGlyphs" stroke="#1e1e1e" stroke-width="0.12">21</text>
<line x1="337.50" y1="544.20" x2="337.50" y2="594.40" stroke="#1f1f1f" stroke-width="1.6"/>
<rect x="369.80" y="510.40" width="25.40" height="14.30" rx="3.8" fill="#0a0af5"/>
<text x="382.50" y="520.79" font-size="9.0" fill="#ffffff" text-anchor="middle" textLength="17.01" lengthAdjust="spacingAndGlyphs" stroke="#ffffff" stroke-width="0.12">SCL</text>
<rect x="373.85" y="525.20" width="18.80" height="14.40" rx="3.8" fill="#6f6c61"/>
<text x="383.25" y="535.64" font-size="9.0" fill="#1e1e1e" text-anchor="middle" textLength="11.45" lengthAdjust="spacingAndGlyphs" stroke="#1e1e1e" stroke-width="0.12">22</text>
<line x1="381.00" y1="544.20" x2="381.00" y2="594.40" stroke="#1f1f1f" stroke-width="1.6"/>
<rect x="413.50" y="510.40" width="25.40" height="14.30" rx="3.8" fill="#0a0af5"/>
<text x="426.20" y="520.79" font-size="9.0" fill="#ff1f55" text-anchor="middle" textLength="18.64" lengthAdjust="spacingAndGlyphs" stroke="#ff1f55" stroke-width="0.12">SDA</text>
<line x1="424.90" y1="529.80" x2="424.90" y2="594.40" stroke="#1f1f1f" stroke-width="1.6"/>
<rect x="458.15" y="510.40" width="25.40" height="14.30" rx="3.8" fill="#0a0af5"/>
<text x="470.85" y="520.79" font-size="9.0" fill="#ff1f55" text-anchor="middle" textLength="17.01" lengthAdjust="spacingAndGlyphs" stroke="#ff1f55" stroke-width="0.12">SCL</text>
<line x1="468.50" y1="529.80" x2="468.50" y2="594.40" stroke="#1f1f1f" stroke-width="1.6"/>
<rect x="500.95" y="510.40" width="25.40" height="14.30" rx="3.8" fill="#0aefef"/>
<text x="513.65" y="520.79" font-size="9.0" fill="#0c3a3a" text-anchor="middle" textLength="17.39" lengthAdjust="spacingAndGlyphs" stroke="#0c3a3a" stroke-width="0.12">TX2</text>
<rect x="504.25" y="525.20" width="18.80" height="14.40" rx="3.8" fill="#6f6c61"/>
<text x="513.65" y="535.64" font-size="9.0" fill="#1e1e1e" text-anchor="middle" textLength="11.45" lengthAdjust="spacingAndGlyphs" stroke="#1e1e1e" stroke-width="0.12">17</text>
<line x1="511.30" y1="544.20" x2="511.30" y2="594.40" stroke="#1f1f1f" stroke-width="1.6"/>
<rect x="543.65" y="510.40" width="25.40" height="14.30" rx="3.8" fill="#0aefef"/>
<text x="556.35" y="520.79" font-size="9.0" fill="#0c3a3a" text-anchor="middle" textLength="18.14" lengthAdjust="spacingAndGlyphs" stroke="#0c3a3a" stroke-width="0.12">RX2</text>
<rect x="547.30" y="525.20" width="18.80" height="14.40" rx="3.8" fill="#6f6c61"/>
<text x="556.70" y="535.64" font-size="9.0" fill="#1e1e1e" text-anchor="middle" textLength="11.45" lengthAdjust="spacingAndGlyphs" stroke="#1e1e1e" stroke-width="0.12">16</text>
<line x1="554.70" y1="544.20" x2="554.70" y2="594.40" stroke="#1f1f1f" stroke-width="1.6"/>
<rect x="586.20" y="510.40" width="25.40" height="14.30" rx="3.8" fill="#e03cf0"/>
<text x="598.90" y="520.79" font-size="9.0" fill="#2a002e" text-anchor="middle" textLength="12.00" lengthAdjust="spacingAndGlyphs" stroke="#2a002e" stroke-width="0.12">CS</text>
<rect x="589.45" y="525.20" width="18.80" height="14.40" rx="3.8" fill="#6f6c61"/>
<text x="598.85" y="535.64" font-size="9.0" fill="#1e1e1e" text-anchor="middle" textLength="11.45" lengthAdjust="spacingAndGlyphs" stroke="#1e1e1e" stroke-width="0.12">05</text>
<line x1="597.70" y1="544.20" x2="597.70" y2="594.40" stroke="#1f1f1f" stroke-width="1.6"/>
<rect x="628.60" y="510.40" width="25.40" height="14.30" rx="3.8" fill="#e03cf0"/>
<text x="641.30" y="520.79" font-size="9.0" fill="#2a002e" text-anchor="middle" textLength="17.20" lengthAdjust="spacingAndGlyphs" stroke="#2a002e" stroke-width="0.12">CLK</text>
<rect x="632.30" y="525.20" width="18.80" height="14.40" rx="3.8" fill="#6f6c61"/>
<text x="641.70" y="535.64" font-size="9.0" fill="#1e1e1e" text-anchor="middle" textLength="11.45" lengthAdjust="spacingAndGlyphs" stroke="#1e1e1e" stroke-width="0.12">18</text>
<line x1="641.30" y1="544.20" x2="641.30" y2="594.40" stroke="#1f1f1f" stroke-width="1.6"/>
<rect x="673.65" y="510.40" width="25.40" height="14.30" rx="3.8" fill="#061206"/>
<text x="686.35" y="520.79" font-size="9.0" fill="#f4f4f4" text-anchor="middle" textLength="20.64" lengthAdjust="spacingAndGlyphs" stroke="#f4f4f4" stroke-width="0.12">GND</text>
<line x1="685.40" y1="529.80" x2="685.40" y2="594.40" stroke="#1f1f1f" stroke-width="1.6"/>
<rect x="326.85" y="495.55" width="67.10" height="14.00" rx="4" fill="#dedede" stroke="#2d2df2" stroke-width="1.3"/>
<text x="360.40" y="505.79" font-size="9.0" fill="#1e1e1e" text-anchor="middle" textLength="35.14" lengthAdjust="spacingAndGlyphs">I2C 3V3</text>
<rect x="414.45" y="495.55" width="68.00" height="14.00" rx="4" fill="#dedede" stroke="#2d2df2" stroke-width="1.3"/>
<text x="448.45" y="505.79" font-size="9.0" fill="#ff1f45" text-anchor="middle" textLength="29.41" lengthAdjust="spacingAndGlyphs">I2C 5V</text>
<rect x="501.65" y="495.55" width="67.20" height="14.00" rx="4" fill="#dedede" stroke="#14e8e8" stroke-width="1.3"/>
<text x="535.25" y="505.79" font-size="9.0" fill="#1e1e1e" text-anchor="middle" textLength="23.84" lengthAdjust="spacingAndGlyphs">UART</text>
<rect x="586.05" y="495.55" width="67.10" height="14.00" rx="4" fill="#dedede" stroke="#e040f0" stroke-width="1.3"/>
<text x="619.60" y="505.79" font-size="9.0" fill="#1e1e1e" text-anchor="middle" textLength="13.80" lengthAdjust="spacingAndGlyphs">SPI</text>
<rect x="280.00" y="697.10" width="25.40" height="14.50" rx="3.8" fill="#e30808"/>
<text x="292.70" y="707.59" font-size="9.0" fill="#3a0000" text-anchor="middle" textLength="11.88" lengthAdjust="spacingAndGlyphs" stroke="#3a0000" stroke-width="0.12">5V</text>
<line x1="293.90" y1="629.50" x2="293.90" y2="693.50" stroke="#1f1f1f" stroke-width="1.6"/>
<rect x="324.15" y="697.10" width="25.40" height="14.50" rx="3.8" fill="#7cf52a"/>
<text x="336.85" y="707.59" font-size="9.0" fill="#10300a" text-anchor="middle" textLength="18.33" lengthAdjust="spacingAndGlyphs" stroke="#10300a" stroke-width="0.12">IO 1</text>
<rect x="327.90" y="682.30" width="18.40" height="14.30" rx="3.8" fill="#6f6c61"/>
<text x="337.10" y="692.69" font-size="9.0" fill="#1e1e1e" text-anchor="middle" textLength="11.45" lengthAdjust="spacingAndGlyphs" stroke="#1e1e1e" stroke-width="0.12">26</text>
<line x1="337.50" y1="629.50" x2="337.50" y2="680.30" stroke="#1f1f1f" stroke-width="1.6"/>
<rect x="367.20" y="697.10" width="25.40" height="14.50" rx="3.8" fill="#7cf52a"/>
<text x="379.90" y="707.59" font-size="9.0" fill="#10300a" text-anchor="middle" textLength="18.33" lengthAdjust="spacingAndGlyphs" stroke="#10300a" stroke-width="0.12">IO 0</text>
<rect x="370.90" y="682.30" width="18.40" height="14.30" rx="3.8" fill="#6f6c61"/>
<text x="380.10" y="692.69" font-size="9.0" fill="#1e1e1e" text-anchor="middle" textLength="11.45" lengthAdjust="spacingAndGlyphs" stroke="#1e1e1e" stroke-width="0.12">25</text>
<line x1="381.00" y1="629.50" x2="381.00" y2="680.30" stroke="#1f1f1f" stroke-width="1.6"/>
<rect x="412.60" y="697.10" width="25.40" height="14.50" rx="3.8" fill="#058a12"/>
<text x="425.30" y="707.59" font-size="9.0" fill="#021c04" text-anchor="middle" textLength="21.48" lengthAdjust="spacingAndGlyphs" stroke="#021c04" stroke-width="0.12">AN 1</text>
<rect x="416.00" y="682.30" width="18.40" height="14.30" rx="3.8" fill="#6f6c61"/>
<text x="425.20" y="692.69" font-size="9.0" fill="#1e1e1e" text-anchor="middle" textLength="11.45" lengthAdjust="spacingAndGlyphs" stroke="#1e1e1e" stroke-width="0.12">35</text>
<line x1="424.90" y1="629.50" x2="424.90" y2="680.30" stroke="#1f1f1f" stroke-width="1.6"/>
<rect x="455.65" y="697.10" width="25.40" height="14.50" rx="3.8" fill="#058a12"/>
<text x="468.35" y="707.59" font-size="9.0" fill="#021c04" text-anchor="middle" textLength="21.48" lengthAdjust="spacingAndGlyphs" stroke="#021c04" stroke-width="0.12">AN 0</text>
<rect x="459.40" y="682.30" width="18.40" height="14.30" rx="3.8" fill="#6f6c61"/>
<text x="468.60" y="692.69" font-size="9.0" fill="#1e1e1e" text-anchor="middle" textLength="11.45" lengthAdjust="spacingAndGlyphs" stroke="#1e1e1e" stroke-width="0.12">34</text>
<line x1="468.50" y1="629.50" x2="468.50" y2="680.30" stroke="#1f1f1f" stroke-width="1.6"/>
<rect x="497.20" y="697.10" width="30.80" height="14.50" rx="3.8" fill="#9d9579"/>
<text x="512.60" y="707.59" font-size="9.0" fill="#1e1e16" text-anchor="middle" textLength="27.50" lengthAdjust="spacingAndGlyphs" stroke="#1e1e16" stroke-width="0.12">AUX 1</text>
<rect x="504.05" y="682.30" width="18.40" height="14.30" rx="3.8" fill="#6f6c61"/>
<text x="513.25" y="692.69" font-size="9.0" fill="#1e1e1e" text-anchor="middle" textLength="11.45" lengthAdjust="spacingAndGlyphs" stroke="#1e1e1e" stroke-width="0.12">32</text>
<line x1="511.30" y1="629.50" x2="511.30" y2="680.30" stroke="#1f1f1f" stroke-width="1.6"/>
<rect x="540.70" y="697.10" width="30.80" height="14.50" rx="3.8" fill="#9d9579"/>
<text x="556.10" y="707.59" font-size="9.0" fill="#1e1e16" text-anchor="middle" textLength="27.50" lengthAdjust="spacingAndGlyphs" stroke="#1e1e16" stroke-width="0.12">AUX 2</text>
<rect x="547.00" y="682.30" width="18.40" height="14.30" rx="3.8" fill="#6f6c61"/>
<text x="556.20" y="692.69" font-size="9.0" fill="#1e1e1e" text-anchor="middle" textLength="11.45" lengthAdjust="spacingAndGlyphs" stroke="#1e1e1e" stroke-width="0.12">33</text>
<line x1="554.70" y1="629.50" x2="554.70" y2="680.30" stroke="#1f1f1f" stroke-width="1.6"/>
<rect x="586.30" y="697.10" width="27.70" height="14.50" rx="3.8" fill="#e03cf0"/>
<text x="600.15" y="707.59" font-size="9.0" fill="#2a002e" text-anchor="middle" textLength="23.22" lengthAdjust="spacingAndGlyphs" stroke="#2a002e" stroke-width="0.12">MOSI</text>
<rect x="590.95" y="682.30" width="18.40" height="14.30" rx="3.8" fill="#6f6c61"/>
<text x="600.15" y="692.69" font-size="9.0" fill="#1e1e1e" text-anchor="middle" textLength="11.45" lengthAdjust="spacingAndGlyphs" stroke="#1e1e1e" stroke-width="0.12">23</text>
<line x1="597.70" y1="629.50" x2="597.70" y2="680.30" stroke="#1f1f1f" stroke-width="1.6"/>
<rect x="630.60" y="697.10" width="27.10" height="14.50" rx="3.8" fill="#e03cf0"/>
<text x="644.15" y="707.59" font-size="9.0" fill="#2a002e" text-anchor="middle" textLength="23.22" lengthAdjust="spacingAndGlyphs" stroke="#2a002e" stroke-width="0.12">MISO</text>
<rect x="634.90" y="682.30" width="18.40" height="14.30" rx="3.8" fill="#6f6c61"/>
<text x="644.10" y="692.69" font-size="9.0" fill="#1e1e1e" text-anchor="middle" textLength="11.45" lengthAdjust="spacingAndGlyphs" stroke="#1e1e1e" stroke-width="0.12">19</text>
<line x1="641.30" y1="629.50" x2="641.30" y2="680.30" stroke="#1f1f1f" stroke-width="1.6"/>
<rect x="669.70" y="697.10" width="30.50" height="14.50" rx="3.8" fill="#fcd024"/>
<text x="684.95" y="707.59" font-size="9.0" fill="#2a2000" text-anchor="middle" textLength="28.84" lengthAdjust="spacingAndGlyphs" stroke="#2a2000" stroke-width="0.12">RESET</text>
<line x1="684.10" y1="629.50" x2="684.10" y2="693.50" stroke="#1f1f1f" stroke-width="1.6"/>
<rect x="324.85" y="712.95" width="67.10" height="13.80" rx="4" fill="#dedede" stroke="#86f050" stroke-width="1.3"/>
<text x="358.40" y="723.09" font-size="9.0" fill="#1e1e1e" text-anchor="middle" textLength="35.18" lengthAdjust="spacingAndGlyphs">DIGITAL</text>
<rect x="413.75" y="712.95" width="66.40" height="13.80" rx="4" fill="#dedede" stroke="#0c9a18" stroke-width="1.3"/>
<text x="446.95" y="723.09" font-size="9.0" fill="#1e1e1e" text-anchor="middle" textLength="19.37" lengthAdjust="spacingAndGlyphs">ADC</text>
<rect x="586.95" y="713.25" width="70.10" height="12.90" rx="4" fill="#dedede" stroke="#e040f0" stroke-width="1.3"/>
<text x="622.00" y="722.94" font-size="9.0" fill="#1e1e1e" text-anchor="middle" textLength="13.80" lengthAdjust="spacingAndGlyphs">SPI</text>
<defs>
<linearGradient id="barL" x1="0" y1="0" x2="1" y2="0"><stop offset="0" stop-color="#35352f"/><stop offset="1" stop-color="#5b5b52"/></linearGradient>
<linearGradient id="barR" x1="0" y1="0" x2="1" y2="0"><stop offset="0" stop-color="#5b5b52"/><stop offset="1" stop-color="#35352f"/></linearGradient>
<linearGradient id="tab" x1="0" y1="0" x2="1" y2="0"><stop offset="0" stop-color="#2f5a2a"/><stop offset="0.25" stop-color="#e8e8d6"/><stop offset="1" stop-color="#f6f6ea"/></linearGradient>
<linearGradient id="tabR" x1="0" y1="0" x2="1" y2="0"><stop offset="0" stop-color="#f6f6ea"/><stop offset="0.75" stop-color="#e8e8d6"/><stop offset="1" stop-color="#2f5a2a"/></linearGradient>
</defs>
<rect x="215.70" y="783.10" width="141.10" height="55.40" fill="#fdfdfd"/>
<path d="M219.80290780141843,786.9 L353.5977304964539,786.9 L353.5977304964539,834.5 L323.2762411347518,834.5 L323.2762411347518,838.5 L319.17333333333335,838.5 L319.17333333333335,832.1 L253.6268794326241,832.1 L253.6268794326241,838.5 L249.52397163120565,838.5 L249.52397163120565,834.5 L220.50340425531914,834.5 Z" fill="#4a4a43"/>
<path d="M219.80290780141843,786.9 L226.90794326241132,789.0 L228.0087234042553,831.6 L220.50340425531914,834.5 Z" fill="url(#barL)"/>
<path d="M353.5977304964539,786.9 L345.9923404255319,789.0 L345.1917730496454,831.6 L353.5977304964539,834.5 Z" fill="url(#barR)"/>
<path d="M226.90794326241132,789.0 L345.9923404255319,789.0 L345.1917730496454,831.6 L228.0087234042553,831.6 Z" fill="#ffffff"/>
<line x1="228.71" y1="831.70" x2="343.79" y2="831.70" stroke="#d8d8d0" stroke-width="0.7"/>
<rect x="255.93" y="787.30" width="6.60" height="4.40" fill="#f4f4ee"/>
<line x1="255.93" y1="791.70" x2="262.53" y2="791.70" stroke="#9a9a92" stroke-width="0.8"/>
<rect x="283.85" y="787.30" width="5.70" height="4.40" fill="#f4f4ee"/>
<line x1="283.85" y1="791.70" x2="289.55" y2="791.70" stroke="#9a9a92" stroke-width="0.8"/>
<rect x="310.97" y="787.30" width="6.50" height="4.40" fill="#f4f4ee"/>
<line x1="310.97" y1="791.70" x2="317.47" y2="791.70" stroke="#9a9a92" stroke-width="0.8"/>
<rect x="228.21" y="832.30" width="21.11" height="1.80" fill="#d8d8d0"/>
<rect x="323.58" y="832.30" width="21.22" height="1.80" fill="#d8d8d0"/>
<rect x="215.70" y="811.50" width="8.21" height="9.80" fill="url(#tab)"/>
<rect x="348.59" y="811.50" width="8.21" height="9.80" fill="url(#tabR)"/>
<path d="M241.5,814.6 L248.3,814.6 L250.10000000000002,813.8000000000001 L250.10000000000002,820.8 L248.3,821.4 Z" fill="#2e2e2a"/>
<rect x="241.50" y="814.60" width="6.80" height="6.80" fill="#d4d2c8"/>
<rect x="241.50" y="814.60" width="6.80" height="1.00" fill="#bcbab0"/>
<rect x="244.10" y="817.40" width="1.60" height="1.60" fill="#f4f4f0"/>
<rect x="268.90" y="814.60" width="6.80" height="6.80" fill="#d4d2c8"/>
<rect x="268.90" y="814.60" width="6.80" height="1.00" fill="#bcbab0"/>
<rect x="271.50" y="817.40" width="1.60" height="1.60" fill="#f4f4f0"/>
<rect x="296.80" y="814.60" width="6.80" height="6.80" fill="#d4d2c8"/>
<rect x="296.80" y="814.60" width="6.80" height="1.00" fill="#bcbab0"/>
<rect x="299.40" y="817.40" width="1.60" height="1.60" fill="#f4f4f0"/>
<path d="M324.70000000000005,814.6 L322.90000000000003,813.8000000000001 L322.90000000000003,820.8 L324.70000000000005,821.4 Z" fill="#2e2e2a"/>
<rect x="324.70" y="814.60" width="6.80" height="6.80" fill="#d4d2c8"/>
<rect x="324.70" y="814.60" width="6.80" height="1.00" fill="#bcbab0"/>
<rect x="327.30" y="817.40" width="1.60" height="1.60" fill="#f4f4f0"/>
<text x="288.45" y="865.60" font-size="19.04" fill="#141414" text-anchor="middle" textLength="75.50" lengthAdjust="spacingAndGlyphs">ANALOG</text>
<rect x="414.00" y="781.80" width="139.50" height="56.20" fill="#fdfdfd"/>
<path d="M418.0563829787234,785.6548736462094 L550.3340425531915,785.6548736462094 L550.3340425531915,833.942238267148 L520.3563829787234,833.942238267148 L520.3563829787234,838.0 L516.3,838.0 L516.3,831.5075812274368 L451.4968085106383,831.5075812274368 L451.4968085106383,838.0 L447.4404255319149,838.0 L447.4404255319149,833.942238267148 L418.74893617021274,833.942238267148 Z" fill="#4a4a43"/>
<path d="M418.0563829787234,785.6548736462094 L425.0808510638298,787.7851985559566 L426.1691489361702,831.0003610108304 L418.74893617021274,833.942238267148 Z" fill="url(#barL)"/>
<path d="M550.3340425531915,785.6548736462094 L542.8148936170213,787.7851985559566 L542.0234042553192,831.0003610108304 L550.3340425531915,833.942238267148 Z" fill="url(#barR)"/>
<path d="M425.0808510638298,787.7851985559566 L542.8148936170213,787.7851985559566 L542.0234042553192,831.0003610108304 L426.1691489361702,831.0003610108304 Z" fill="#ffffff"/>
<line x1="426.86" y1="831.10" x2="540.64" y2="831.10" stroke="#d8d8d0" stroke-width="0.7"/>
<rect x="453.77" y="786.06" width="6.53" height="4.46" fill="#f4f4ee"/>
<line x1="453.77" y1="790.52" x2="460.30" y2="790.52" stroke="#9a9a92" stroke-width="0.8"/>
<rect x="481.38" y="786.06" width="5.64" height="4.46" fill="#f4f4ee"/>
<line x1="481.38" y1="790.52" x2="487.01" y2="790.52" stroke="#9a9a92" stroke-width="0.8"/>
<rect x="508.19" y="786.06" width="6.43" height="4.46" fill="#f4f4ee"/>
<line x1="508.19" y1="790.52" x2="514.62" y2="790.52" stroke="#9a9a92" stroke-width="0.8"/>
<rect x="426.37" y="831.71" width="20.88" height="1.83" fill="#d8d8d0"/>
<rect x="520.65" y="831.71" width="20.97" height="1.83" fill="#d8d8d0"/>
<rect x="414.00" y="810.61" width="8.11" height="9.94" fill="url(#tab)"/>
<rect x="545.39" y="810.61" width="8.11" height="9.94" fill="url(#tabR)"/>
<path d="M439.70000000000005,813.7 L446.5,813.7 L448.3,812.9000000000001 L448.3,819.9 L446.5,820.5 Z" fill="#2e2e2a"/>
<rect x="439.70" y="813.70" width="6.80" height="6.80" fill="#d4d2c8"/>
<rect x="439.70" y="813.70" width="6.80" height="1.00" fill="#bcbab0"/>
<rect x="442.30" y="816.50" width="1.60" height="1.60" fill="#f4f4f0"/>
<rect x="466.90" y="813.70" width="6.80" height="6.80" fill="#d4d2c8"/>
<rect x="466.90" y="813.70" width="6.80" height="1.00" fill="#bcbab0"/>
<rect x="469.50" y="816.50" width="1.60" height="1.60" fill="#f4f4f0"/>
<rect x="494.30" y="813.70" width="6.80" height="6.80" fill="#d4d2c8"/>
<rect x="494.30" y="813.70" width="6.80" height="1.00" fill="#bcbab0"/>
<rect x="496.90" y="816.50" width="1.60" height="1.60" fill="#f4f4f0"/>
<path d="M521.7,813.7 L519.9000000000001,812.9000000000001 L519.9000000000001,819.9 L521.7,820.5 Z" fill="#2e2e2a"/>
<rect x="521.70" y="813.70" width="6.80" height="6.80" fill="#d4d2c8"/>
<rect x="521.70" y="813.70" width="6.80" height="1.00" fill="#bcbab0"/>
<rect x="524.30" y="816.50" width="1.60" height="1.60" fill="#f4f4f0"/>
<text x="481.80" y="865.50" font-size="18.31" fill="#141414" text-anchor="middle" textLength="70.20" lengthAdjust="spacingAndGlyphs">DIGITAL</text>
<rect x="604.00" y="782.40" width="136.70" height="53.20" fill="#fdfdfd"/>
<path d="M607.9749645390071,786.0490974729241 L737.5975886524823,786.0490974729241 L737.5975886524823,831.7588447653429 L708.2216312056738,831.7588447653429 L708.2216312056738,835.6 L704.2466666666667,835.6 L704.2466666666667,829.4541516245488 L640.7441843971632,829.4541516245488 L640.7441843971632,835.6 L636.769219858156,835.6 L636.769219858156,831.7588447653429 L608.6536170212765,831.7588447653429 Z" fill="#4a4a43"/>
<path d="M607.9749645390071,786.0490974729241 L614.8584397163121,788.0657039711191 L615.9248936170213,828.9740072202167 L608.6536170212765,831.7588447653429 Z" fill="url(#barL)"/>
<path d="M737.5975886524823,786.0490974729241 L730.2293617021277,788.0657039711191 L729.4537588652482,828.9740072202167 L737.5975886524823,831.7588447653429 Z" fill="url(#barR)"/>
<path d="M614.8584397163121,788.0657039711191 L730.2293617021277,788.0657039711191 L729.4537588652482,828.9740072202167 L615.9248936170213,828.9740072202167 Z" fill="#ffffff"/>
<line x1="616.60" y1="829.07" x2="728.10" y2="829.07" stroke="#d8d8d0" stroke-width="0.7"/>
<rect x="642.97" y="786.43" width="6.40" height="4.23" fill="#f4f4ee"/>
<line x1="642.97" y1="790.66" x2="649.37" y2="790.66" stroke="#9a9a92" stroke-width="0.8"/>
<rect x="670.02" y="786.43" width="5.53" height="4.23" fill="#f4f4ee"/>
<line x1="670.02" y1="790.66" x2="675.55" y2="790.66" stroke="#9a9a92" stroke-width="0.8"/>
<rect x="696.30" y="786.43" width="6.30" height="4.23" fill="#f4f4ee"/>
<line x1="696.30" y1="790.66" x2="702.60" y2="790.66" stroke="#9a9a92" stroke-width="0.8"/>
<rect x="616.12" y="829.65" width="20.46" height="1.73" fill="#d8d8d0"/>
<rect x="708.51" y="829.65" width="20.55" height="1.73" fill="#d8d8d0"/>
<rect x="604.00" y="809.67" width="7.95" height="9.41" fill="url(#tab)"/>
<rect x="732.75" y="809.67" width="7.95" height="9.41" fill="url(#tabR)"/>
<path d="M628.5,812.6 L635.3,812.6 L637.0999999999999,811.8000000000001 L637.0999999999999,818.8 L635.3,819.4 Z" fill="#2e2e2a"/>
<rect x="628.50" y="812.60" width="6.80" height="6.80" fill="#d4d2c8"/>
<rect x="628.50" y="812.60" width="6.80" height="1.00" fill="#bcbab0"/>
<rect x="631.10" y="815.40" width="1.60" height="1.60" fill="#f4f4f0"/>
<rect x="655.60" y="812.60" width="6.80" height="6.80" fill="#d4d2c8"/>
<rect x="655.60" y="812.60" width="6.80" height="1.00" fill="#bcbab0"/>
<rect x="658.20" y="815.40" width="1.60" height="1.60" fill="#f4f4f0"/>
<rect x="682.30" y="812.60" width="6.80" height="6.80" fill="#d4d2c8"/>
<rect x="682.30" y="812.60" width="6.80" height="1.00" fill="#bcbab0"/>
<rect x="684.90" y="815.40" width="1.60" height="1.60" fill="#f4f4f0"/>
<path d="M709.4,812.6 L707.6,811.8000000000001 L707.6,818.8 L709.4,819.4 Z" fill="#2e2e2a"/>
<rect x="709.40" y="812.60" width="6.80" height="6.80" fill="#d4d2c8"/>
<rect x="709.40" y="812.60" width="6.80" height="1.00" fill="#bcbab0"/>
<rect x="712.00" y="815.40" width="1.60" height="1.60" fill="#f4f4f0"/>
<text x="665.05" y="864.50" font-size="19.19" fill="#141414" text-anchor="middle" textLength="55.30" lengthAdjust="spacingAndGlyphs">5V I2C</text>
<rect x="533.50" y="927.70" width="139.50" height="55.80" fill="#fdfdfd"/>
<path d="M537.5563829787234,931.5274368231047 L669.8340425531915,931.5274368231047 L669.8340425531915,979.471119133574 L639.8563829787234,979.471119133574 L639.8563829787234,983.5 L635.8,983.5 L635.8,977.0537906137184 L570.9968085106383,977.0537906137184 L570.9968085106383,983.5 L566.9404255319149,983.5 L566.9404255319149,979.471119133574 L538.2489361702128,979.471119133574 Z" fill="#4a4a43"/>
<path d="M537.5563829787234,931.5274368231047 L544.5808510638298,933.6425992779784 L545.6691489361702,976.5501805054151 L538.2489361702128,979.471119133574 Z" fill="url(#barL)"/>
<path d="M669.8340425531915,931.5274368231047 L662.3148936170213,933.6425992779784 L661.5234042553192,976.5501805054151 L669.8340425531915,979.471119133574 Z" fill="url(#barR)"/>
<path d="M544.5808510638298,933.6425992779784 L662.3148936170213,933.6425992779784 L661.5234042553192,976.5501805054151 L545.6691489361702,976.5501805054151 Z" fill="#ffffff"/>
<line x1="546.36" y1="976.65" x2="660.14" y2="976.65" stroke="#d8d8d0" stroke-width="0.7"/>
<rect x="573.27" y="931.93" width="6.53" height="4.43" fill="#f4f4ee"/>
<line x1="573.27" y1="936.36" x2="579.80" y2="936.36" stroke="#9a9a92" stroke-width="0.8"/>
<rect x="600.88" y="931.93" width="5.64" height="4.43" fill="#f4f4ee"/>
<line x1="600.88" y1="936.36" x2="606.51" y2="936.36" stroke="#9a9a92" stroke-width="0.8"/>
<rect x="627.69" y="931.93" width="6.43" height="4.43" fill="#f4f4ee"/>
<line x1="627.69" y1="936.36" x2="634.12" y2="936.36" stroke="#9a9a92" stroke-width="0.8"/>
<rect x="545.87" y="977.26" width="20.88" height="1.81" fill="#d8d8d0"/>
<rect x="640.15" y="977.26" width="20.97" height="1.81" fill="#d8d8d0"/>
<rect x="533.50" y="956.31" width="8.11" height="9.87" fill="url(#tab)"/>
<rect x="664.89" y="956.31" width="8.11" height="9.87" fill="url(#tabR)"/>
<path d="M559.3000000000001,959.3000000000001 L566.1,959.3000000000001 L567.9,958.5000000000001 L567.9,965.5 L566.1,966.1 Z" fill="#2e2e2a"/>
<rect x="559.30" y="959.30" width="6.80" height="6.80" fill="#d4d2c8"/>
<rect x="559.30" y="959.30" width="6.80" height="1.00" fill="#bcbab0"/>
<rect x="561.90" y="962.10" width="1.60" height="1.60" fill="#f4f4f0"/>
<rect x="586.70" y="959.30" width="6.80" height="6.80" fill="#d4d2c8"/>
<rect x="586.70" y="959.30" width="6.80" height="1.00" fill="#bcbab0"/>
<rect x="589.30" y="962.10" width="1.60" height="1.60" fill="#f4f4f0"/>
<rect x="614.00" y="959.30" width="6.80" height="6.80" fill="#d4d2c8"/>
<rect x="614.00" y="959.30" width="6.80" height="1.00" fill="#bcbab0"/>
<rect x="616.60" y="962.10" width="1.60" height="1.60" fill="#f4f4f0"/>
<path d="M641.4,959.3000000000001 L639.6,958.5000000000001 L639.6,965.5 L641.4,966.1 Z" fill="#2e2e2a"/>
<rect x="641.40" y="959.30" width="6.80" height="6.80" fill="#d4d2c8"/>
<rect x="641.40" y="959.30" width="6.80" height="1.00" fill="#bcbab0"/>
<rect x="644.00" y="962.10" width="1.60" height="1.60" fill="#f4f4f0"/>
<text x="607.60" y="1010.60" font-size="19.04" fill="#141414" text-anchor="middle" textLength="47.60" lengthAdjust="spacingAndGlyphs">UART</text>
<rect x="211.90" y="923.30" width="219.10" height="70.70" fill="#ffffff"/>
<defs><linearGradient id="stripT" x1="0" y1="0" x2="0" y2="1"><stop offset="0" stop-color="#f2f2ea"/><stop offset="1" stop-color="#d4d2bf"/></linearGradient></defs>
<rect x="211.90" y="923.30" width="219.10" height="3.70" fill="url(#stripT)"/>
<rect x="211.90" y="927.00" width="2.70" height="46.00" fill="#dedcc8"/>
<path d="M214.6,926.8 L230.8,926.8 L231.6,979.8 L214.6,979.8 Z" fill="#4a4a43"/>
<path d="M419,927.8 L430.8,927.8 L430.8,979.8 L418.4,979.8 Z" fill="#4a4a43"/>
<path d="M215.8,973.2 L227,969.4 L227,982 L215.8,982 Z" fill="#f3f2e6"/>
<rect x="211.90" y="972.80" width="4.70" height="11.00" fill="#3f6a36"/>
<path d="M420.9,969.8 L430.8,975.2 L430.8,982 L420.9,982 Z" fill="#f3f2e6"/>
<rect x="211.90" y="979.60" width="219.10" height="8.00" fill="#4a4a43"/>
<path d="M232,982 L256,982 L251.8,987.6 L251.8,994 L232,994 Z" fill="#ecebdc"/>
<rect x="232.00" y="982.00" width="3.00" height="12.00" fill="#4a4a43"/>
<rect x="236.00" y="986.00" width="4.00" height="8.00" fill="#d4d2bc"/>
<rect x="240.70" y="992.00" width="11.10" height="2.00" fill="#3f6a36"/>
<path d="M389,982 L413.5,982 L413.5,994 L393.8,994 L393.8,987.6 Z" fill="#ecebdc"/>
<rect x="406.00" y="986.00" width="3.50" height="8.00" fill="#d4d2bc"/>
<rect x="409.50" y="982.00" width="4.00" height="12.00" fill="#4a4a43"/>
<rect x="393.80" y="992.00" width="10.20" height="2.00" fill="#3f6a36"/>
<path d="M235.2,960.8 L245.7,957.0999999999999 L254.9,957.0999999999999 L254.9,966.0999999999999 L244.4,969.8 L244.4,960.8 Z" fill="#3a3a35"/>
<rect x="235.20" y="960.80" width="9.20" height="9.00" fill="#d6d4c8"/>
<rect x="237.80" y="963.00" width="4.00" height="4.20" fill="#fbfbf6"/>
<path d="M269,960.8 L276.4,957.0999999999999 L285.0,957.0999999999999 L285.0,966.0999999999999 L277.6,969.8 L277.6,960.8 Z" fill="#3a3a35"/>
<rect x="269.00" y="960.80" width="8.60" height="9.00" fill="#d6d4c8"/>
<rect x="271.30" y="963.00" width="4.00" height="4.20" fill="#fbfbf6"/>
<path d="M302.2,960.8 L305.4,957.0999999999999 L314.3,957.0999999999999 L314.3,966.0999999999999 L311.1,969.8 L311.1,960.8 Z" fill="#3a3a35"/>
<rect x="302.20" y="960.80" width="8.90" height="9.00" fill="#d6d4c8"/>
<rect x="304.65" y="963.00" width="4.00" height="4.20" fill="#fbfbf6"/>
<rect x="336.00" y="956.90" width="8.00" height="3.90" fill="#3a3a35"/>
<rect x="336.00" y="960.80" width="8.00" height="9.00" fill="#d6d4c8"/>
<rect x="338.00" y="963.00" width="4.00" height="4.20" fill="#fbfbf6"/>
<path d="M377.8,960.8 L374.3,957.0999999999999 L365.7,957.0999999999999 L365.7,966.0999999999999 L369.2,969.8 L369.2,960.8 Z" fill="#3a3a35"/>
<rect x="369.20" y="960.80" width="8.60" height="9.00" fill="#d6d4c8"/>
<rect x="371.50" y="963.00" width="4.00" height="4.20" fill="#fbfbf6"/>
<path d="M411,960.8 L403.6,957.0999999999999 L395.1,957.0999999999999 L395.1,966.0999999999999 L402.5,969.8 L402.5,960.8 Z" fill="#3a3a35"/>
<rect x="402.50" y="960.80" width="8.50" height="9.00" fill="#d6d4c8"/>
<rect x="404.75" y="963.00" width="4.00" height="4.20" fill="#fbfbf6"/>
<text x="313.10" y="1023.70" font-size="18.9" fill="#141414" text-anchor="middle" textLength="27.80" lengthAdjust="spacingAndGlyphs">SPI</text>
<rect x="232.60" y="754.50" width="24.10" height="15.10" rx="3.8" fill="#058a12"/>
<text x="244.65" y="765.15" font-size="8.6" fill="#021c04" text-anchor="middle" textLength="21.00" lengthAdjust="spacingAndGlyphs" stroke="#021c04" stroke-width="0.12">AN 0</text>
<rect x="260.00" y="754.50" width="24.10" height="15.10" rx="3.8" fill="#058a12"/>
<text x="272.05" y="765.15" font-size="8.6" fill="#021c04" text-anchor="middle" textLength="21.00" lengthAdjust="spacingAndGlyphs" stroke="#021c04" stroke-width="0.12">AN 1</text>
<rect x="287.40" y="754.50" width="23.80" height="15.10" rx="3.8" fill="#f27a08"/>
<text x="299.30" y="765.15" font-size="8.6" fill="#2a1400" text-anchor="middle" textLength="17.22" lengthAdjust="spacingAndGlyphs" stroke="#2a1400" stroke-width="0.12">3V3</text>
<rect x="314.60" y="754.50" width="24.10" height="15.10" rx="3.8" fill="#061206"/>
<text x="326.65" y="765.15" font-size="8.6" fill="#f4f4f4" text-anchor="middle" textLength="20.18" lengthAdjust="spacingAndGlyphs" stroke="#f4f4f4" stroke-width="0.12">GND</text>
<rect x="429.30" y="752.80" width="23.60" height="14.30" rx="3.8" fill="#7cf52a"/>
<text x="441.10" y="763.05" font-size="8.6" fill="#10300a" text-anchor="middle" textLength="17.92" lengthAdjust="spacingAndGlyphs" stroke="#10300a" stroke-width="0.12">IO 0</text>
<rect x="457.00" y="752.80" width="23.50" height="14.30" rx="3.8" fill="#7cf52a"/>
<text x="468.75" y="763.05" font-size="8.6" fill="#10300a" text-anchor="middle" textLength="17.92" lengthAdjust="spacingAndGlyphs" stroke="#10300a" stroke-width="0.12">IO 1</text>
<rect x="484.90" y="752.80" width="23.50" height="14.30" rx="3.8" fill="#f27a08"/>
<text x="496.65" y="763.05" font-size="8.6" fill="#2a1400" text-anchor="middle" textLength="17.22" lengthAdjust="spacingAndGlyphs" stroke="#2a1400" stroke-width="0.12">3V3</text>
<rect x="512.00" y="752.80" width="23.80" height="14.30" rx="3.8" fill="#061206"/>
<text x="523.90" y="763.05" font-size="8.6" fill="#f4f4f4" text-anchor="middle" textLength="20.18" lengthAdjust="spacingAndGlyphs" stroke="#f4f4f4" stroke-width="0.12">GND</text>
<rect x="619.90" y="754.80" width="23.20" height="14.80" rx="3.8" fill="#0a0af5"/>
<text x="631.50" y="765.30" font-size="8.6" fill="#ff1f55" text-anchor="middle" textLength="16.63" lengthAdjust="spacingAndGlyphs" stroke="#ff1f55" stroke-width="0.12">SCL</text>
<rect x="646.70" y="754.80" width="23.30" height="14.80" rx="3.8" fill="#0a0af5"/>
<text x="658.35" y="765.30" font-size="8.6" fill="#ff1f55" text-anchor="middle" textLength="18.23" lengthAdjust="spacingAndGlyphs" stroke="#ff1f55" stroke-width="0.12">SDA</text>
<rect x="673.40" y="754.80" width="23.00" height="14.80" rx="3.8" fill="#f27a08"/>
<text x="684.90" y="765.30" font-size="8.6" fill="#2a1400" text-anchor="middle" textLength="17.22" lengthAdjust="spacingAndGlyphs" stroke="#2a1400" stroke-width="0.12">3V3</text>
<rect x="700.00" y="754.80" width="23.00" height="14.80" rx="3.8" fill="#061206"/>
<text x="711.50" y="765.30" font-size="8.6" fill="#f4f4f4" text-anchor="middle" textLength="20.18" lengthAdjust="spacingAndGlyphs" stroke="#f4f4f4" stroke-width="0.12">GND</text>
<rect x="225.90" y="904.80" width="21.40" height="15.30" rx="3.8" fill="#061206"/>
<text x="236.60" y="915.40" font-size="8.2" fill="#f4f4f4" text-anchor="middle" textLength="19.03" lengthAdjust="spacingAndGlyphs" stroke="#f4f4f4" stroke-width="0.12">GND</text>
<rect x="260.40" y="904.80" width="22.90" height="15.30" rx="3.8" fill="#e03cf0"/>
<text x="271.85" y="915.40" font-size="8.2" fill="#2a002e" text-anchor="middle" textLength="21.40" lengthAdjust="spacingAndGlyphs" stroke="#2a002e" stroke-width="0.12">MOSI</text>
<rect x="292.90" y="904.80" width="22.90" height="15.30" rx="3.8" fill="#e03cf0"/>
<text x="304.35" y="915.40" font-size="8.2" fill="#2a002e" text-anchor="middle" textLength="21.40" lengthAdjust="spacingAndGlyphs" stroke="#2a002e" stroke-width="0.12">MISO</text>
<rect x="327.60" y="904.00" width="21.40" height="15.60" rx="3.8" fill="#e03cf0"/>
<text x="338.30" y="914.75" font-size="8.2" fill="#2a002e" text-anchor="middle" textLength="15.86" lengthAdjust="spacingAndGlyphs" stroke="#2a002e" stroke-width="0.12">CLK</text>
<rect x="360.60" y="904.80" width="21.10" height="15.30" rx="3.8" fill="#e03cf0"/>
<text x="371.15" y="915.40" font-size="8.2" fill="#2a002e" text-anchor="middle" textLength="11.06" lengthAdjust="spacingAndGlyphs" stroke="#2a002e" stroke-width="0.12">CS</text>
<rect x="394.00" y="904.80" width="21.50" height="15.30" rx="3.8" fill="#f27a08"/>
<text x="404.75" y="915.40" font-size="8.2" fill="#2a1400" text-anchor="middle" textLength="16.24" lengthAdjust="spacingAndGlyphs" stroke="#2a1400" stroke-width="0.12">3V3</text>
<rect x="545.00" y="898.20" width="25.60" height="16.10" rx="3.8" fill="#0aefef"/>
<text x="557.80" y="909.35" font-size="8.6" fill="#0c3a3a" text-anchor="middle" textLength="20.54" lengthAdjust="spacingAndGlyphs" stroke="#0c3a3a" stroke-width="0.12">RX 2</text>
<rect x="577.20" y="898.20" width="23.80" height="16.10" rx="3.8" fill="#0aefef"/>
<text x="589.10" y="909.35" font-size="8.6" fill="#0c3a3a" text-anchor="middle" textLength="19.80" lengthAdjust="spacingAndGlyphs" stroke="#0c3a3a" stroke-width="0.12">TX 2</text>
<rect x="604.60" y="898.20" width="23.50" height="16.10" rx="3.8" fill="#f27a08"/>
<text x="616.35" y="909.35" font-size="8.6" fill="#2a1400" text-anchor="middle" textLength="17.22" lengthAdjust="spacingAndGlyphs" stroke="#2a1400" stroke-width="0.12">3V3</text>
<rect x="631.30" y="898.20" width="23.80" height="16.10" rx="3.8" fill="#061206"/>
<text x="643.20" y="909.35" font-size="8.6" fill="#f4f4f4" text-anchor="middle" textLength="20.18" lengthAdjust="spacingAndGlyphs" stroke="#f4f4f4" stroke-width="0.12">GND</text>
<path d="M753.84,998.43 L749.56,992.23 L748.77,987.72 L749.11,979.82 L751.59,973.05 L757.23,967.97 L765.13,966.28 L774.15,966.85 L780.92,969.67 L786.56,973.61 L789.95,973.95 L795.59,973.05 L801.23,975.87 L804.05,978.13 L805.18,980.38 L805.74,982.08 L804.05,984.90 L802.36,986.59 L801.00,989.07 L799.54,986.59 L797.84,987.15 L793.33,988.84 L787.69,989.41 L785.43,990.54 L792.20,991.10 L795.02,992.79 L795.59,994.49 L793.33,993.92 L792.20,995.05 L789.95,993.36 L787.13,993.92 L784.87,995.61 L783.18,996.74 L784.87,998.43 L774.15,998.43 L773.02,995.84 L771.33,998.43 Z" fill="#0d0d0d" stroke="#0d0d0d" stroke-width="0.3" stroke-linejoin="round"/>
<path d="M758.6,979.4 C764.5,978.6 769.2,981.6 770.2,988 C770.7,991 770.8,993.5 771.0,996.2 L769.3,996.2 C769.2,993 769,990.6 768.5,988.2 C767.5,983.2 764,980.4 758.6,979.4 Z" fill="#d9d9d9"/>
<path d="M790.2,976.2 C788.8,976.2 788.2,978.6 789.6,979.6 C789.2,978.6 789.6,977.2 790.8,977.0 Z" fill="#d9d9d9"/>
<circle cx="795.40" cy="978.80" r="0.90" fill="#d9d9d9"/>
<defs><pattern id="chk" x="0.3" y="0.3" width="2.25" height="2.25" patternUnits="userSpaceOnUse"><rect width="2.25" height="2.25" fill="#d9d9d9"/><rect width="1.55" height="1.55" fill="#141414"/></pattern></defs>
<path d="M755.5,999 L739.5,999 C735.2,997.2 733.6,992.6 734.6,988.8 C735.8,985 740,983.6 744.6,984.4 C749.6,985.6 753.4,990.6 755.5,999 Z" fill="url(#chk)"/>
<text x="771.90" y="1012.00" font-size="13.4" fill="#111111" text-anchor="middle" font-weight="bold" textLength="85.50" lengthAdjust="spacingAndGlyphs" stroke="#111111" stroke-width="0.45">THE BEAVER DAM</text>
</svg>
</body></html>
